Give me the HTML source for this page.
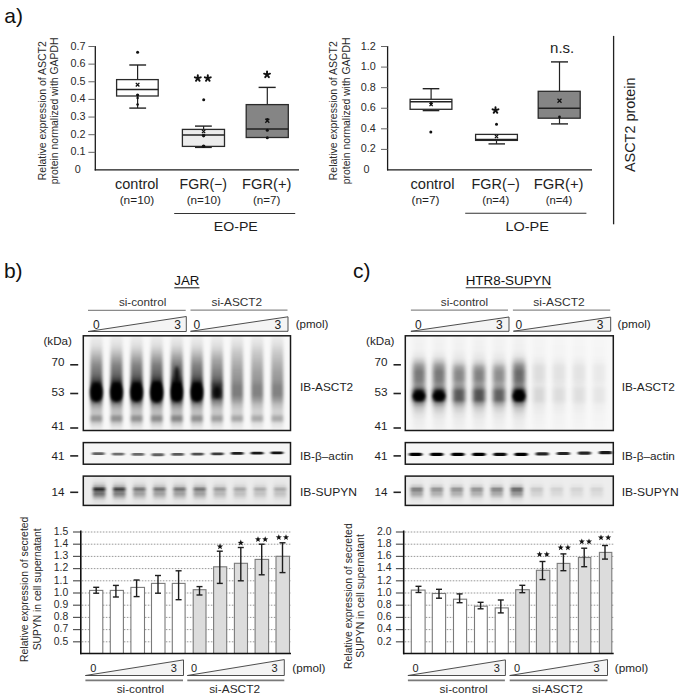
<!DOCTYPE html><html><head><meta charset="utf-8"><title>Figure</title><style>html,body{margin:0;padding:0;background:#fff;width:685px;height:697px;overflow:hidden}svg{display:block}text{font-family:"Liberation Sans",sans-serif}</style></head><body><svg width="685" height="697" viewBox="0 0 685 697"><defs><filter id="b1" x="-50%" y="-50%" width="200%" height="200%"><feGaussianBlur stdDeviation="1.5"/></filter><filter id="b2" x="-50%" y="-50%" width="200%" height="200%"><feGaussianBlur stdDeviation="2.2"/></filter><filter id="b3" x="-50%" y="-50%" width="200%" height="200%"><feGaussianBlur stdDeviation="0.9"/></filter><filter id="bl" x="-50%" y="-50%" width="200%" height="200%"><feGaussianBlur stdDeviation="1.7 1.0"/></filter><filter id="blc" x="-50%" y="-50%" width="200%" height="200%"><feGaussianBlur stdDeviation="2.3 1.3"/></filter><filter id="bs" x="-50%" y="-50%" width="200%" height="200%"><feGaussianBlur stdDeviation="1.2 0.8"/></filter><filter id="bsu" x="-50%" y="-50%" width="200%" height="200%"><feGaussianBlur stdDeviation="1.5 0.7"/></filter><filter id="bsb" x="-50%" y="-50%" width="200%" height="200%"><feGaussianBlur stdDeviation="1.8 0.5"/></filter><linearGradient id="g1" gradientUnits="userSpaceOnUse" x1="0" y1="334" x2="0" y2="432"><stop offset="0.0000" stop-color="#000" stop-opacity="0.019"/><stop offset="0.0408" stop-color="#000" stop-opacity="0.048"/><stop offset="0.1122" stop-color="#000" stop-opacity="0.095"/><stop offset="0.1633" stop-color="#000" stop-opacity="0.162"/><stop offset="0.2143" stop-color="#000" stop-opacity="0.257"/><stop offset="0.2653" stop-color="#000" stop-opacity="0.351"/><stop offset="0.3163" stop-color="#000" stop-opacity="0.446"/><stop offset="0.3673" stop-color="#000" stop-opacity="0.503"/><stop offset="0.4184" stop-color="#000" stop-opacity="0.570"/><stop offset="0.4694" stop-color="#000" stop-opacity="0.712"/><stop offset="0.5102" stop-color="#000" stop-opacity="0.902"/><stop offset="0.6531" stop-color="#000" stop-opacity="0.902"/><stop offset="0.6939" stop-color="#000" stop-opacity="0.570"/><stop offset="0.7347" stop-color="#000" stop-opacity="0.342"/><stop offset="0.7755" stop-color="#000" stop-opacity="0.228"/><stop offset="0.8163" stop-color="#000" stop-opacity="0.209"/><stop offset="0.8469" stop-color="#000" stop-opacity="0.399"/><stop offset="0.8776" stop-color="#000" stop-opacity="0.399"/><stop offset="0.9082" stop-color="#000" stop-opacity="0.171"/><stop offset="0.9592" stop-color="#000" stop-opacity="0.057"/><stop offset="1.0000" stop-color="#000" stop-opacity="0.028"/></linearGradient><linearGradient id="g2" gradientUnits="userSpaceOnUse" x1="0" y1="334" x2="0" y2="432"><stop offset="0.0000" stop-color="#000" stop-opacity="0.020"/><stop offset="0.0408" stop-color="#000" stop-opacity="0.050"/><stop offset="0.1122" stop-color="#000" stop-opacity="0.100"/><stop offset="0.1633" stop-color="#000" stop-opacity="0.170"/><stop offset="0.2143" stop-color="#000" stop-opacity="0.270"/><stop offset="0.2653" stop-color="#000" stop-opacity="0.370"/><stop offset="0.3163" stop-color="#000" stop-opacity="0.470"/><stop offset="0.3673" stop-color="#000" stop-opacity="0.530"/><stop offset="0.4184" stop-color="#000" stop-opacity="0.600"/><stop offset="0.4694" stop-color="#000" stop-opacity="0.750"/><stop offset="0.5102" stop-color="#000" stop-opacity="0.950"/><stop offset="0.6531" stop-color="#000" stop-opacity="0.950"/><stop offset="0.6939" stop-color="#000" stop-opacity="0.600"/><stop offset="0.7347" stop-color="#000" stop-opacity="0.360"/><stop offset="0.7755" stop-color="#000" stop-opacity="0.240"/><stop offset="0.8163" stop-color="#000" stop-opacity="0.220"/><stop offset="0.8469" stop-color="#000" stop-opacity="0.420"/><stop offset="0.8776" stop-color="#000" stop-opacity="0.420"/><stop offset="0.9082" stop-color="#000" stop-opacity="0.180"/><stop offset="0.9592" stop-color="#000" stop-opacity="0.060"/><stop offset="1.0000" stop-color="#000" stop-opacity="0.030"/></linearGradient><linearGradient id="g3" gradientUnits="userSpaceOnUse" x1="0" y1="334" x2="0" y2="432"><stop offset="0.0000" stop-color="#000" stop-opacity="0.020"/><stop offset="0.0408" stop-color="#000" stop-opacity="0.050"/><stop offset="0.1122" stop-color="#000" stop-opacity="0.100"/><stop offset="0.1633" stop-color="#000" stop-opacity="0.170"/><stop offset="0.2143" stop-color="#000" stop-opacity="0.270"/><stop offset="0.2653" stop-color="#000" stop-opacity="0.370"/><stop offset="0.3163" stop-color="#000" stop-opacity="0.470"/><stop offset="0.3673" stop-color="#000" stop-opacity="0.530"/><stop offset="0.4184" stop-color="#000" stop-opacity="0.600"/><stop offset="0.4694" stop-color="#000" stop-opacity="0.750"/><stop offset="0.5102" stop-color="#000" stop-opacity="0.950"/><stop offset="0.6531" stop-color="#000" stop-opacity="0.950"/><stop offset="0.6939" stop-color="#000" stop-opacity="0.600"/><stop offset="0.7347" stop-color="#000" stop-opacity="0.360"/><stop offset="0.7755" stop-color="#000" stop-opacity="0.240"/><stop offset="0.8163" stop-color="#000" stop-opacity="0.220"/><stop offset="0.8469" stop-color="#000" stop-opacity="0.420"/><stop offset="0.8776" stop-color="#000" stop-opacity="0.420"/><stop offset="0.9082" stop-color="#000" stop-opacity="0.180"/><stop offset="0.9592" stop-color="#000" stop-opacity="0.060"/><stop offset="1.0000" stop-color="#000" stop-opacity="0.030"/></linearGradient><linearGradient id="g4" gradientUnits="userSpaceOnUse" x1="0" y1="334" x2="0" y2="432"><stop offset="0.0000" stop-color="#000" stop-opacity="0.021"/><stop offset="0.0408" stop-color="#000" stop-opacity="0.053"/><stop offset="0.1122" stop-color="#000" stop-opacity="0.105"/><stop offset="0.1633" stop-color="#000" stop-opacity="0.179"/><stop offset="0.2143" stop-color="#000" stop-opacity="0.284"/><stop offset="0.2653" stop-color="#000" stop-opacity="0.389"/><stop offset="0.3163" stop-color="#000" stop-opacity="0.493"/><stop offset="0.3673" stop-color="#000" stop-opacity="0.557"/><stop offset="0.4184" stop-color="#000" stop-opacity="0.630"/><stop offset="0.4694" stop-color="#000" stop-opacity="0.788"/><stop offset="0.5102" stop-color="#000" stop-opacity="0.997"/><stop offset="0.6531" stop-color="#000" stop-opacity="0.997"/><stop offset="0.6939" stop-color="#000" stop-opacity="0.630"/><stop offset="0.7347" stop-color="#000" stop-opacity="0.378"/><stop offset="0.7755" stop-color="#000" stop-opacity="0.252"/><stop offset="0.8163" stop-color="#000" stop-opacity="0.231"/><stop offset="0.8469" stop-color="#000" stop-opacity="0.441"/><stop offset="0.8776" stop-color="#000" stop-opacity="0.441"/><stop offset="0.9082" stop-color="#000" stop-opacity="0.189"/><stop offset="0.9592" stop-color="#000" stop-opacity="0.063"/><stop offset="1.0000" stop-color="#000" stop-opacity="0.032"/></linearGradient><linearGradient id="g5" gradientUnits="userSpaceOnUse" x1="0" y1="334" x2="0" y2="432"><stop offset="0.0000" stop-color="#000" stop-opacity="0.022"/><stop offset="0.0408" stop-color="#000" stop-opacity="0.055"/><stop offset="0.1122" stop-color="#000" stop-opacity="0.110"/><stop offset="0.1633" stop-color="#000" stop-opacity="0.187"/><stop offset="0.2143" stop-color="#000" stop-opacity="0.297"/><stop offset="0.2653" stop-color="#000" stop-opacity="0.407"/><stop offset="0.3163" stop-color="#000" stop-opacity="0.517"/><stop offset="0.3673" stop-color="#000" stop-opacity="0.583"/><stop offset="0.4184" stop-color="#000" stop-opacity="0.660"/><stop offset="0.4694" stop-color="#000" stop-opacity="0.825"/><stop offset="0.5102" stop-color="#000" stop-opacity="1.000"/><stop offset="0.6531" stop-color="#000" stop-opacity="1.000"/><stop offset="0.6939" stop-color="#000" stop-opacity="0.660"/><stop offset="0.7347" stop-color="#000" stop-opacity="0.396"/><stop offset="0.7755" stop-color="#000" stop-opacity="0.264"/><stop offset="0.8163" stop-color="#000" stop-opacity="0.242"/><stop offset="0.8469" stop-color="#000" stop-opacity="0.462"/><stop offset="0.8776" stop-color="#000" stop-opacity="0.462"/><stop offset="0.9082" stop-color="#000" stop-opacity="0.198"/><stop offset="0.9592" stop-color="#000" stop-opacity="0.066"/><stop offset="1.0000" stop-color="#000" stop-opacity="0.033"/></linearGradient><linearGradient id="g6" gradientUnits="userSpaceOnUse" x1="0" y1="334" x2="0" y2="432"><stop offset="0.0000" stop-color="#000" stop-opacity="0.020"/><stop offset="0.0408" stop-color="#000" stop-opacity="0.050"/><stop offset="0.1122" stop-color="#000" stop-opacity="0.100"/><stop offset="0.1633" stop-color="#000" stop-opacity="0.170"/><stop offset="0.2143" stop-color="#000" stop-opacity="0.270"/><stop offset="0.2653" stop-color="#000" stop-opacity="0.370"/><stop offset="0.3163" stop-color="#000" stop-opacity="0.470"/><stop offset="0.3673" stop-color="#000" stop-opacity="0.530"/><stop offset="0.4184" stop-color="#000" stop-opacity="0.600"/><stop offset="0.4694" stop-color="#000" stop-opacity="0.750"/><stop offset="0.5102" stop-color="#000" stop-opacity="0.950"/><stop offset="0.6531" stop-color="#000" stop-opacity="0.950"/><stop offset="0.6939" stop-color="#000" stop-opacity="0.600"/><stop offset="0.7347" stop-color="#000" stop-opacity="0.360"/><stop offset="0.7755" stop-color="#000" stop-opacity="0.240"/><stop offset="0.8163" stop-color="#000" stop-opacity="0.220"/><stop offset="0.8469" stop-color="#000" stop-opacity="0.420"/><stop offset="0.8776" stop-color="#000" stop-opacity="0.420"/><stop offset="0.9082" stop-color="#000" stop-opacity="0.180"/><stop offset="0.9592" stop-color="#000" stop-opacity="0.060"/><stop offset="1.0000" stop-color="#000" stop-opacity="0.030"/></linearGradient><linearGradient id="g7" gradientUnits="userSpaceOnUse" x1="0" y1="334" x2="0" y2="432"><stop offset="0.0000" stop-color="#000" stop-opacity="0.020"/><stop offset="0.0408" stop-color="#000" stop-opacity="0.050"/><stop offset="0.1122" stop-color="#000" stop-opacity="0.100"/><stop offset="0.1633" stop-color="#000" stop-opacity="0.160"/><stop offset="0.2143" stop-color="#000" stop-opacity="0.250"/><stop offset="0.2653" stop-color="#000" stop-opacity="0.330"/><stop offset="0.3469" stop-color="#000" stop-opacity="0.430"/><stop offset="0.4184" stop-color="#000" stop-opacity="0.520"/><stop offset="0.4694" stop-color="#000" stop-opacity="0.620"/><stop offset="0.5204" stop-color="#000" stop-opacity="0.800"/><stop offset="0.6429" stop-color="#000" stop-opacity="0.800"/><stop offset="0.6837" stop-color="#000" stop-opacity="0.500"/><stop offset="0.7347" stop-color="#000" stop-opacity="0.300"/><stop offset="0.7755" stop-color="#000" stop-opacity="0.200"/><stop offset="0.8163" stop-color="#000" stop-opacity="0.200"/><stop offset="0.8469" stop-color="#000" stop-opacity="0.360"/><stop offset="0.8776" stop-color="#000" stop-opacity="0.360"/><stop offset="0.9082" stop-color="#000" stop-opacity="0.150"/><stop offset="0.9592" stop-color="#000" stop-opacity="0.050"/><stop offset="1.0000" stop-color="#000" stop-opacity="0.030"/></linearGradient><linearGradient id="g8" gradientUnits="userSpaceOnUse" x1="0" y1="334" x2="0" y2="432"><stop offset="0.0000" stop-color="#000" stop-opacity="0.022"/><stop offset="0.0408" stop-color="#000" stop-opacity="0.055"/><stop offset="0.1122" stop-color="#000" stop-opacity="0.110"/><stop offset="0.1837" stop-color="#000" stop-opacity="0.187"/><stop offset="0.2653" stop-color="#000" stop-opacity="0.264"/><stop offset="0.3673" stop-color="#000" stop-opacity="0.352"/><stop offset="0.4694" stop-color="#000" stop-opacity="0.418"/><stop offset="0.5408" stop-color="#000" stop-opacity="0.495"/><stop offset="0.6224" stop-color="#000" stop-opacity="0.495"/><stop offset="0.6735" stop-color="#000" stop-opacity="0.385"/><stop offset="0.7245" stop-color="#000" stop-opacity="0.242"/><stop offset="0.7755" stop-color="#000" stop-opacity="0.165"/><stop offset="0.8163" stop-color="#000" stop-opacity="0.165"/><stop offset="0.8469" stop-color="#000" stop-opacity="0.330"/><stop offset="0.8776" stop-color="#000" stop-opacity="0.330"/><stop offset="0.9082" stop-color="#000" stop-opacity="0.110"/><stop offset="0.9592" stop-color="#000" stop-opacity="0.044"/><stop offset="1.0000" stop-color="#000" stop-opacity="0.022"/></linearGradient><linearGradient id="g9" gradientUnits="userSpaceOnUse" x1="0" y1="334" x2="0" y2="432"><stop offset="0.0000" stop-color="#000" stop-opacity="0.021"/><stop offset="0.0408" stop-color="#000" stop-opacity="0.053"/><stop offset="0.1122" stop-color="#000" stop-opacity="0.105"/><stop offset="0.1837" stop-color="#000" stop-opacity="0.179"/><stop offset="0.2653" stop-color="#000" stop-opacity="0.252"/><stop offset="0.3673" stop-color="#000" stop-opacity="0.336"/><stop offset="0.4694" stop-color="#000" stop-opacity="0.399"/><stop offset="0.5408" stop-color="#000" stop-opacity="0.473"/><stop offset="0.6224" stop-color="#000" stop-opacity="0.473"/><stop offset="0.6735" stop-color="#000" stop-opacity="0.367"/><stop offset="0.7245" stop-color="#000" stop-opacity="0.231"/><stop offset="0.7755" stop-color="#000" stop-opacity="0.158"/><stop offset="0.8163" stop-color="#000" stop-opacity="0.158"/><stop offset="0.8469" stop-color="#000" stop-opacity="0.315"/><stop offset="0.8776" stop-color="#000" stop-opacity="0.315"/><stop offset="0.9082" stop-color="#000" stop-opacity="0.105"/><stop offset="0.9592" stop-color="#000" stop-opacity="0.042"/><stop offset="1.0000" stop-color="#000" stop-opacity="0.021"/></linearGradient><linearGradient id="g10" gradientUnits="userSpaceOnUse" x1="0" y1="334" x2="0" y2="432"><stop offset="0.0000" stop-color="#000" stop-opacity="0.021"/><stop offset="0.0408" stop-color="#000" stop-opacity="0.053"/><stop offset="0.1122" stop-color="#000" stop-opacity="0.105"/><stop offset="0.1837" stop-color="#000" stop-opacity="0.179"/><stop offset="0.2653" stop-color="#000" stop-opacity="0.252"/><stop offset="0.3673" stop-color="#000" stop-opacity="0.336"/><stop offset="0.4694" stop-color="#000" stop-opacity="0.399"/><stop offset="0.5408" stop-color="#000" stop-opacity="0.473"/><stop offset="0.6224" stop-color="#000" stop-opacity="0.473"/><stop offset="0.6735" stop-color="#000" stop-opacity="0.367"/><stop offset="0.7245" stop-color="#000" stop-opacity="0.231"/><stop offset="0.7755" stop-color="#000" stop-opacity="0.158"/><stop offset="0.8163" stop-color="#000" stop-opacity="0.158"/><stop offset="0.8469" stop-color="#000" stop-opacity="0.315"/><stop offset="0.8776" stop-color="#000" stop-opacity="0.315"/><stop offset="0.9082" stop-color="#000" stop-opacity="0.105"/><stop offset="0.9592" stop-color="#000" stop-opacity="0.042"/><stop offset="1.0000" stop-color="#000" stop-opacity="0.021"/></linearGradient><linearGradient id="g11" gradientUnits="userSpaceOnUse" x1="0" y1="476" x2="0" y2="505.4"><stop offset="0.0000" stop-color="#000" stop-opacity="0.000"/><stop offset="0.1701" stop-color="#000" stop-opacity="0.034"/><stop offset="0.2721" stop-color="#000" stop-opacity="0.119"/><stop offset="0.3571" stop-color="#000" stop-opacity="0.297"/><stop offset="0.4082" stop-color="#000" stop-opacity="0.680"/><stop offset="0.4592" stop-color="#000" stop-opacity="0.807"/><stop offset="0.5102" stop-color="#000" stop-opacity="0.612"/><stop offset="0.5544" stop-color="#000" stop-opacity="0.510"/><stop offset="0.6122" stop-color="#000" stop-opacity="0.527"/><stop offset="0.6803" stop-color="#000" stop-opacity="0.383"/><stop offset="0.7483" stop-color="#000" stop-opacity="0.212"/><stop offset="0.8333" stop-color="#000" stop-opacity="0.068"/><stop offset="0.9864" stop-color="#000" stop-opacity="0.000"/></linearGradient><linearGradient id="g12" gradientUnits="userSpaceOnUse" x1="0" y1="476" x2="0" y2="505.4"><stop offset="0.0000" stop-color="#000" stop-opacity="0.000"/><stop offset="0.1701" stop-color="#000" stop-opacity="0.030"/><stop offset="0.2721" stop-color="#000" stop-opacity="0.105"/><stop offset="0.3571" stop-color="#000" stop-opacity="0.262"/><stop offset="0.4082" stop-color="#000" stop-opacity="0.600"/><stop offset="0.4592" stop-color="#000" stop-opacity="0.712"/><stop offset="0.5102" stop-color="#000" stop-opacity="0.540"/><stop offset="0.5544" stop-color="#000" stop-opacity="0.450"/><stop offset="0.6122" stop-color="#000" stop-opacity="0.465"/><stop offset="0.6803" stop-color="#000" stop-opacity="0.338"/><stop offset="0.7483" stop-color="#000" stop-opacity="0.188"/><stop offset="0.8333" stop-color="#000" stop-opacity="0.060"/><stop offset="0.9864" stop-color="#000" stop-opacity="0.000"/></linearGradient><linearGradient id="g13" gradientUnits="userSpaceOnUse" x1="0" y1="476" x2="0" y2="505.4"><stop offset="0.0000" stop-color="#000" stop-opacity="0.000"/><stop offset="0.1701" stop-color="#000" stop-opacity="0.021"/><stop offset="0.2721" stop-color="#000" stop-opacity="0.073"/><stop offset="0.3571" stop-color="#000" stop-opacity="0.182"/><stop offset="0.4082" stop-color="#000" stop-opacity="0.416"/><stop offset="0.4592" stop-color="#000" stop-opacity="0.494"/><stop offset="0.5102" stop-color="#000" stop-opacity="0.374"/><stop offset="0.5544" stop-color="#000" stop-opacity="0.312"/><stop offset="0.6122" stop-color="#000" stop-opacity="0.322"/><stop offset="0.6803" stop-color="#000" stop-opacity="0.234"/><stop offset="0.7483" stop-color="#000" stop-opacity="0.130"/><stop offset="0.8333" stop-color="#000" stop-opacity="0.042"/><stop offset="0.9864" stop-color="#000" stop-opacity="0.000"/></linearGradient><linearGradient id="g14" gradientUnits="userSpaceOnUse" x1="0" y1="476" x2="0" y2="505.4"><stop offset="0.0000" stop-color="#000" stop-opacity="0.000"/><stop offset="0.1701" stop-color="#000" stop-opacity="0.021"/><stop offset="0.2721" stop-color="#000" stop-opacity="0.073"/><stop offset="0.3571" stop-color="#000" stop-opacity="0.182"/><stop offset="0.4082" stop-color="#000" stop-opacity="0.416"/><stop offset="0.4592" stop-color="#000" stop-opacity="0.494"/><stop offset="0.5102" stop-color="#000" stop-opacity="0.374"/><stop offset="0.5544" stop-color="#000" stop-opacity="0.312"/><stop offset="0.6122" stop-color="#000" stop-opacity="0.322"/><stop offset="0.6803" stop-color="#000" stop-opacity="0.234"/><stop offset="0.7483" stop-color="#000" stop-opacity="0.130"/><stop offset="0.8333" stop-color="#000" stop-opacity="0.042"/><stop offset="0.9864" stop-color="#000" stop-opacity="0.000"/></linearGradient><linearGradient id="g15" gradientUnits="userSpaceOnUse" x1="0" y1="476" x2="0" y2="505.4"><stop offset="0.0000" stop-color="#000" stop-opacity="0.000"/><stop offset="0.1701" stop-color="#000" stop-opacity="0.021"/><stop offset="0.2721" stop-color="#000" stop-opacity="0.073"/><stop offset="0.3571" stop-color="#000" stop-opacity="0.182"/><stop offset="0.4082" stop-color="#000" stop-opacity="0.416"/><stop offset="0.4592" stop-color="#000" stop-opacity="0.494"/><stop offset="0.5102" stop-color="#000" stop-opacity="0.374"/><stop offset="0.5544" stop-color="#000" stop-opacity="0.312"/><stop offset="0.6122" stop-color="#000" stop-opacity="0.322"/><stop offset="0.6803" stop-color="#000" stop-opacity="0.234"/><stop offset="0.7483" stop-color="#000" stop-opacity="0.130"/><stop offset="0.8333" stop-color="#000" stop-opacity="0.042"/><stop offset="0.9864" stop-color="#000" stop-opacity="0.000"/></linearGradient><linearGradient id="g16" gradientUnits="userSpaceOnUse" x1="0" y1="476" x2="0" y2="505.4"><stop offset="0.0000" stop-color="#000" stop-opacity="0.000"/><stop offset="0.1701" stop-color="#000" stop-opacity="0.021"/><stop offset="0.2721" stop-color="#000" stop-opacity="0.073"/><stop offset="0.3571" stop-color="#000" stop-opacity="0.182"/><stop offset="0.4082" stop-color="#000" stop-opacity="0.416"/><stop offset="0.4592" stop-color="#000" stop-opacity="0.494"/><stop offset="0.5102" stop-color="#000" stop-opacity="0.374"/><stop offset="0.5544" stop-color="#000" stop-opacity="0.312"/><stop offset="0.6122" stop-color="#000" stop-opacity="0.322"/><stop offset="0.6803" stop-color="#000" stop-opacity="0.234"/><stop offset="0.7483" stop-color="#000" stop-opacity="0.130"/><stop offset="0.8333" stop-color="#000" stop-opacity="0.042"/><stop offset="0.9864" stop-color="#000" stop-opacity="0.000"/></linearGradient><linearGradient id="g17" gradientUnits="userSpaceOnUse" x1="0" y1="476" x2="0" y2="505.4"><stop offset="0.0000" stop-color="#000" stop-opacity="0.000"/><stop offset="0.1701" stop-color="#000" stop-opacity="0.014"/><stop offset="0.2721" stop-color="#000" stop-opacity="0.050"/><stop offset="0.3571" stop-color="#000" stop-opacity="0.126"/><stop offset="0.4082" stop-color="#000" stop-opacity="0.288"/><stop offset="0.4592" stop-color="#000" stop-opacity="0.342"/><stop offset="0.5102" stop-color="#000" stop-opacity="0.259"/><stop offset="0.5544" stop-color="#000" stop-opacity="0.216"/><stop offset="0.6122" stop-color="#000" stop-opacity="0.223"/><stop offset="0.6803" stop-color="#000" stop-opacity="0.162"/><stop offset="0.7483" stop-color="#000" stop-opacity="0.090"/><stop offset="0.8333" stop-color="#000" stop-opacity="0.029"/><stop offset="0.9864" stop-color="#000" stop-opacity="0.000"/></linearGradient><linearGradient id="g18" gradientUnits="userSpaceOnUse" x1="0" y1="476" x2="0" y2="505.4"><stop offset="0.0000" stop-color="#000" stop-opacity="0.000"/><stop offset="0.1701" stop-color="#000" stop-opacity="0.012"/><stop offset="0.2721" stop-color="#000" stop-opacity="0.042"/><stop offset="0.3571" stop-color="#000" stop-opacity="0.105"/><stop offset="0.4082" stop-color="#000" stop-opacity="0.240"/><stop offset="0.4592" stop-color="#000" stop-opacity="0.285"/><stop offset="0.5102" stop-color="#000" stop-opacity="0.216"/><stop offset="0.5544" stop-color="#000" stop-opacity="0.180"/><stop offset="0.6122" stop-color="#000" stop-opacity="0.186"/><stop offset="0.6803" stop-color="#000" stop-opacity="0.135"/><stop offset="0.7483" stop-color="#000" stop-opacity="0.075"/><stop offset="0.8333" stop-color="#000" stop-opacity="0.024"/><stop offset="0.9864" stop-color="#000" stop-opacity="0.000"/></linearGradient><linearGradient id="g19" gradientUnits="userSpaceOnUse" x1="0" y1="476" x2="0" y2="505.4"><stop offset="0.0000" stop-color="#000" stop-opacity="0.000"/><stop offset="0.1701" stop-color="#000" stop-opacity="0.011"/><stop offset="0.2721" stop-color="#000" stop-opacity="0.039"/><stop offset="0.3571" stop-color="#000" stop-opacity="0.098"/><stop offset="0.4082" stop-color="#000" stop-opacity="0.224"/><stop offset="0.4592" stop-color="#000" stop-opacity="0.266"/><stop offset="0.5102" stop-color="#000" stop-opacity="0.202"/><stop offset="0.5544" stop-color="#000" stop-opacity="0.168"/><stop offset="0.6122" stop-color="#000" stop-opacity="0.174"/><stop offset="0.6803" stop-color="#000" stop-opacity="0.126"/><stop offset="0.7483" stop-color="#000" stop-opacity="0.070"/><stop offset="0.8333" stop-color="#000" stop-opacity="0.022"/><stop offset="0.9864" stop-color="#000" stop-opacity="0.000"/></linearGradient><linearGradient id="g20" gradientUnits="userSpaceOnUse" x1="0" y1="476" x2="0" y2="505.4"><stop offset="0.0000" stop-color="#000" stop-opacity="0.000"/><stop offset="0.1701" stop-color="#000" stop-opacity="0.011"/><stop offset="0.2721" stop-color="#000" stop-opacity="0.039"/><stop offset="0.3571" stop-color="#000" stop-opacity="0.098"/><stop offset="0.4082" stop-color="#000" stop-opacity="0.224"/><stop offset="0.4592" stop-color="#000" stop-opacity="0.266"/><stop offset="0.5102" stop-color="#000" stop-opacity="0.202"/><stop offset="0.5544" stop-color="#000" stop-opacity="0.168"/><stop offset="0.6122" stop-color="#000" stop-opacity="0.174"/><stop offset="0.6803" stop-color="#000" stop-opacity="0.126"/><stop offset="0.7483" stop-color="#000" stop-opacity="0.070"/><stop offset="0.8333" stop-color="#000" stop-opacity="0.022"/><stop offset="0.9864" stop-color="#000" stop-opacity="0.000"/></linearGradient><linearGradient id="g21" gradientUnits="userSpaceOnUse" x1="0" y1="334" x2="0" y2="432"><stop offset="0.0000" stop-color="#000" stop-opacity="0.020"/><stop offset="0.1633" stop-color="#000" stop-opacity="0.030"/><stop offset="0.2245" stop-color="#000" stop-opacity="0.070"/><stop offset="0.2755" stop-color="#000" stop-opacity="0.200"/><stop offset="0.3265" stop-color="#000" stop-opacity="0.400"/><stop offset="0.3878" stop-color="#000" stop-opacity="0.520"/><stop offset="0.4694" stop-color="#000" stop-opacity="0.500"/><stop offset="0.5204" stop-color="#000" stop-opacity="0.420"/><stop offset="0.5510" stop-color="#000" stop-opacity="0.550"/><stop offset="0.5816" stop-color="#000" stop-opacity="0.900"/><stop offset="0.6735" stop-color="#000" stop-opacity="0.900"/><stop offset="0.7041" stop-color="#000" stop-opacity="0.450"/><stop offset="0.7551" stop-color="#000" stop-opacity="0.200"/><stop offset="0.8163" stop-color="#000" stop-opacity="0.100"/><stop offset="0.8776" stop-color="#000" stop-opacity="0.050"/><stop offset="1.0000" stop-color="#000" stop-opacity="0.020"/></linearGradient><linearGradient id="g22" gradientUnits="userSpaceOnUse" x1="0" y1="334" x2="0" y2="432"><stop offset="0.0000" stop-color="#000" stop-opacity="0.020"/><stop offset="0.1633" stop-color="#000" stop-opacity="0.030"/><stop offset="0.2245" stop-color="#000" stop-opacity="0.070"/><stop offset="0.2755" stop-color="#000" stop-opacity="0.200"/><stop offset="0.3265" stop-color="#000" stop-opacity="0.400"/><stop offset="0.3878" stop-color="#000" stop-opacity="0.520"/><stop offset="0.4694" stop-color="#000" stop-opacity="0.500"/><stop offset="0.5204" stop-color="#000" stop-opacity="0.420"/><stop offset="0.5510" stop-color="#000" stop-opacity="0.550"/><stop offset="0.5816" stop-color="#000" stop-opacity="0.900"/><stop offset="0.6735" stop-color="#000" stop-opacity="0.900"/><stop offset="0.7041" stop-color="#000" stop-opacity="0.450"/><stop offset="0.7551" stop-color="#000" stop-opacity="0.200"/><stop offset="0.8163" stop-color="#000" stop-opacity="0.100"/><stop offset="0.8776" stop-color="#000" stop-opacity="0.050"/><stop offset="1.0000" stop-color="#000" stop-opacity="0.020"/></linearGradient><linearGradient id="g23" gradientUnits="userSpaceOnUse" x1="0" y1="334" x2="0" y2="432"><stop offset="0.0000" stop-color="#000" stop-opacity="0.020"/><stop offset="0.1633" stop-color="#000" stop-opacity="0.030"/><stop offset="0.2449" stop-color="#000" stop-opacity="0.070"/><stop offset="0.2959" stop-color="#000" stop-opacity="0.160"/><stop offset="0.3367" stop-color="#000" stop-opacity="0.340"/><stop offset="0.3878" stop-color="#000" stop-opacity="0.450"/><stop offset="0.4592" stop-color="#000" stop-opacity="0.450"/><stop offset="0.5102" stop-color="#000" stop-opacity="0.360"/><stop offset="0.5510" stop-color="#000" stop-opacity="0.450"/><stop offset="0.5816" stop-color="#000" stop-opacity="0.640"/><stop offset="0.6735" stop-color="#000" stop-opacity="0.640"/><stop offset="0.7041" stop-color="#000" stop-opacity="0.380"/><stop offset="0.7551" stop-color="#000" stop-opacity="0.180"/><stop offset="0.8163" stop-color="#000" stop-opacity="0.090"/><stop offset="0.8776" stop-color="#000" stop-opacity="0.050"/><stop offset="1.0000" stop-color="#000" stop-opacity="0.020"/></linearGradient><linearGradient id="g24" gradientUnits="userSpaceOnUse" x1="0" y1="334" x2="0" y2="432"><stop offset="0.0000" stop-color="#000" stop-opacity="0.021"/><stop offset="0.1633" stop-color="#000" stop-opacity="0.032"/><stop offset="0.2449" stop-color="#000" stop-opacity="0.074"/><stop offset="0.2959" stop-color="#000" stop-opacity="0.168"/><stop offset="0.3367" stop-color="#000" stop-opacity="0.357"/><stop offset="0.3878" stop-color="#000" stop-opacity="0.473"/><stop offset="0.4592" stop-color="#000" stop-opacity="0.473"/><stop offset="0.5102" stop-color="#000" stop-opacity="0.378"/><stop offset="0.5510" stop-color="#000" stop-opacity="0.473"/><stop offset="0.5816" stop-color="#000" stop-opacity="0.672"/><stop offset="0.6735" stop-color="#000" stop-opacity="0.672"/><stop offset="0.7041" stop-color="#000" stop-opacity="0.399"/><stop offset="0.7551" stop-color="#000" stop-opacity="0.189"/><stop offset="0.8163" stop-color="#000" stop-opacity="0.095"/><stop offset="0.8776" stop-color="#000" stop-opacity="0.053"/><stop offset="1.0000" stop-color="#000" stop-opacity="0.021"/></linearGradient><linearGradient id="g25" gradientUnits="userSpaceOnUse" x1="0" y1="334" x2="0" y2="432"><stop offset="0.0000" stop-color="#000" stop-opacity="0.019"/><stop offset="0.1633" stop-color="#000" stop-opacity="0.028"/><stop offset="0.2449" stop-color="#000" stop-opacity="0.067"/><stop offset="0.2959" stop-color="#000" stop-opacity="0.152"/><stop offset="0.3367" stop-color="#000" stop-opacity="0.323"/><stop offset="0.3878" stop-color="#000" stop-opacity="0.427"/><stop offset="0.4592" stop-color="#000" stop-opacity="0.427"/><stop offset="0.5102" stop-color="#000" stop-opacity="0.342"/><stop offset="0.5510" stop-color="#000" stop-opacity="0.427"/><stop offset="0.5816" stop-color="#000" stop-opacity="0.608"/><stop offset="0.6735" stop-color="#000" stop-opacity="0.608"/><stop offset="0.7041" stop-color="#000" stop-opacity="0.361"/><stop offset="0.7551" stop-color="#000" stop-opacity="0.171"/><stop offset="0.8163" stop-color="#000" stop-opacity="0.085"/><stop offset="0.8776" stop-color="#000" stop-opacity="0.048"/><stop offset="1.0000" stop-color="#000" stop-opacity="0.019"/></linearGradient><linearGradient id="g26" gradientUnits="userSpaceOnUse" x1="0" y1="334" x2="0" y2="432"><stop offset="0.0000" stop-color="#000" stop-opacity="0.022"/><stop offset="0.1633" stop-color="#000" stop-opacity="0.034"/><stop offset="0.2245" stop-color="#000" stop-opacity="0.078"/><stop offset="0.2755" stop-color="#000" stop-opacity="0.224"/><stop offset="0.3265" stop-color="#000" stop-opacity="0.448"/><stop offset="0.3878" stop-color="#000" stop-opacity="0.582"/><stop offset="0.4694" stop-color="#000" stop-opacity="0.560"/><stop offset="0.5204" stop-color="#000" stop-opacity="0.470"/><stop offset="0.5510" stop-color="#000" stop-opacity="0.616"/><stop offset="0.5816" stop-color="#000" stop-opacity="1.000"/><stop offset="0.6735" stop-color="#000" stop-opacity="1.000"/><stop offset="0.7041" stop-color="#000" stop-opacity="0.504"/><stop offset="0.7551" stop-color="#000" stop-opacity="0.224"/><stop offset="0.8163" stop-color="#000" stop-opacity="0.112"/><stop offset="0.8776" stop-color="#000" stop-opacity="0.056"/><stop offset="1.0000" stop-color="#000" stop-opacity="0.022"/></linearGradient><linearGradient id="g27" gradientUnits="userSpaceOnUse" x1="0" y1="334" x2="0" y2="432"><stop offset="0.0000" stop-color="#000" stop-opacity="0.011"/><stop offset="0.2143" stop-color="#000" stop-opacity="0.022"/><stop offset="0.2857" stop-color="#000" stop-opacity="0.055"/><stop offset="0.3367" stop-color="#000" stop-opacity="0.110"/><stop offset="0.4490" stop-color="#000" stop-opacity="0.110"/><stop offset="0.5204" stop-color="#000" stop-opacity="0.077"/><stop offset="0.5714" stop-color="#000" stop-opacity="0.132"/><stop offset="0.6735" stop-color="#000" stop-opacity="0.132"/><stop offset="0.7245" stop-color="#000" stop-opacity="0.066"/><stop offset="0.8265" stop-color="#000" stop-opacity="0.033"/><stop offset="1.0000" stop-color="#000" stop-opacity="0.011"/></linearGradient><linearGradient id="g28" gradientUnits="userSpaceOnUse" x1="0" y1="334" x2="0" y2="432"><stop offset="0.0000" stop-color="#000" stop-opacity="0.009"/><stop offset="0.2143" stop-color="#000" stop-opacity="0.018"/><stop offset="0.2857" stop-color="#000" stop-opacity="0.045"/><stop offset="0.3367" stop-color="#000" stop-opacity="0.090"/><stop offset="0.4490" stop-color="#000" stop-opacity="0.090"/><stop offset="0.5204" stop-color="#000" stop-opacity="0.063"/><stop offset="0.5714" stop-color="#000" stop-opacity="0.108"/><stop offset="0.6735" stop-color="#000" stop-opacity="0.108"/><stop offset="0.7245" stop-color="#000" stop-opacity="0.054"/><stop offset="0.8265" stop-color="#000" stop-opacity="0.027"/><stop offset="1.0000" stop-color="#000" stop-opacity="0.009"/></linearGradient><linearGradient id="g29" gradientUnits="userSpaceOnUse" x1="0" y1="334" x2="0" y2="432"><stop offset="0.0000" stop-color="#000" stop-opacity="0.009"/><stop offset="0.2143" stop-color="#000" stop-opacity="0.017"/><stop offset="0.2857" stop-color="#000" stop-opacity="0.043"/><stop offset="0.3367" stop-color="#000" stop-opacity="0.085"/><stop offset="0.4490" stop-color="#000" stop-opacity="0.085"/><stop offset="0.5204" stop-color="#000" stop-opacity="0.060"/><stop offset="0.5714" stop-color="#000" stop-opacity="0.102"/><stop offset="0.6735" stop-color="#000" stop-opacity="0.102"/><stop offset="0.7245" stop-color="#000" stop-opacity="0.051"/><stop offset="0.8265" stop-color="#000" stop-opacity="0.025"/><stop offset="1.0000" stop-color="#000" stop-opacity="0.009"/></linearGradient><linearGradient id="g30" gradientUnits="userSpaceOnUse" x1="0" y1="334" x2="0" y2="432"><stop offset="0.0000" stop-color="#000" stop-opacity="0.006"/><stop offset="0.2143" stop-color="#000" stop-opacity="0.012"/><stop offset="0.2857" stop-color="#000" stop-opacity="0.030"/><stop offset="0.3367" stop-color="#000" stop-opacity="0.060"/><stop offset="0.4490" stop-color="#000" stop-opacity="0.060"/><stop offset="0.5204" stop-color="#000" stop-opacity="0.042"/><stop offset="0.5714" stop-color="#000" stop-opacity="0.072"/><stop offset="0.6735" stop-color="#000" stop-opacity="0.072"/><stop offset="0.7245" stop-color="#000" stop-opacity="0.036"/><stop offset="0.8265" stop-color="#000" stop-opacity="0.018"/><stop offset="1.0000" stop-color="#000" stop-opacity="0.006"/></linearGradient><linearGradient id="g31" gradientUnits="userSpaceOnUse" x1="0" y1="476" x2="0" y2="505.4"><stop offset="0.0000" stop-color="#000" stop-opacity="0.000"/><stop offset="0.2381" stop-color="#000" stop-opacity="0.026"/><stop offset="0.3571" stop-color="#000" stop-opacity="0.156"/><stop offset="0.4252" stop-color="#000" stop-opacity="0.442"/><stop offset="0.4932" stop-color="#000" stop-opacity="0.442"/><stop offset="0.5612" stop-color="#000" stop-opacity="0.322"/><stop offset="0.6293" stop-color="#000" stop-opacity="0.286"/><stop offset="0.6973" stop-color="#000" stop-opacity="0.182"/><stop offset="0.7653" stop-color="#000" stop-opacity="0.078"/><stop offset="0.8503" stop-color="#000" stop-opacity="0.026"/><stop offset="0.9864" stop-color="#000" stop-opacity="0.000"/></linearGradient><linearGradient id="g32" gradientUnits="userSpaceOnUse" x1="0" y1="476" x2="0" y2="505.4"><stop offset="0.0000" stop-color="#000" stop-opacity="0.000"/><stop offset="0.2381" stop-color="#000" stop-opacity="0.021"/><stop offset="0.3571" stop-color="#000" stop-opacity="0.126"/><stop offset="0.4252" stop-color="#000" stop-opacity="0.357"/><stop offset="0.4932" stop-color="#000" stop-opacity="0.357"/><stop offset="0.5612" stop-color="#000" stop-opacity="0.260"/><stop offset="0.6293" stop-color="#000" stop-opacity="0.231"/><stop offset="0.6973" stop-color="#000" stop-opacity="0.147"/><stop offset="0.7653" stop-color="#000" stop-opacity="0.063"/><stop offset="0.8503" stop-color="#000" stop-opacity="0.021"/><stop offset="0.9864" stop-color="#000" stop-opacity="0.000"/></linearGradient><linearGradient id="g33" gradientUnits="userSpaceOnUse" x1="0" y1="476" x2="0" y2="505.4"><stop offset="0.0000" stop-color="#000" stop-opacity="0.000"/><stop offset="0.2381" stop-color="#000" stop-opacity="0.021"/><stop offset="0.3571" stop-color="#000" stop-opacity="0.126"/><stop offset="0.4252" stop-color="#000" stop-opacity="0.357"/><stop offset="0.4932" stop-color="#000" stop-opacity="0.357"/><stop offset="0.5612" stop-color="#000" stop-opacity="0.260"/><stop offset="0.6293" stop-color="#000" stop-opacity="0.231"/><stop offset="0.6973" stop-color="#000" stop-opacity="0.147"/><stop offset="0.7653" stop-color="#000" stop-opacity="0.063"/><stop offset="0.8503" stop-color="#000" stop-opacity="0.021"/><stop offset="0.9864" stop-color="#000" stop-opacity="0.000"/></linearGradient><linearGradient id="g34" gradientUnits="userSpaceOnUse" x1="0" y1="476" x2="0" y2="505.4"><stop offset="0.0000" stop-color="#000" stop-opacity="0.000"/><stop offset="0.2381" stop-color="#000" stop-opacity="0.021"/><stop offset="0.3571" stop-color="#000" stop-opacity="0.126"/><stop offset="0.4252" stop-color="#000" stop-opacity="0.357"/><stop offset="0.4932" stop-color="#000" stop-opacity="0.357"/><stop offset="0.5612" stop-color="#000" stop-opacity="0.260"/><stop offset="0.6293" stop-color="#000" stop-opacity="0.231"/><stop offset="0.6973" stop-color="#000" stop-opacity="0.147"/><stop offset="0.7653" stop-color="#000" stop-opacity="0.063"/><stop offset="0.8503" stop-color="#000" stop-opacity="0.021"/><stop offset="0.9864" stop-color="#000" stop-opacity="0.000"/></linearGradient><linearGradient id="g35" gradientUnits="userSpaceOnUse" x1="0" y1="476" x2="0" y2="505.4"><stop offset="0.0000" stop-color="#000" stop-opacity="0.000"/><stop offset="0.2381" stop-color="#000" stop-opacity="0.024"/><stop offset="0.3571" stop-color="#000" stop-opacity="0.144"/><stop offset="0.4252" stop-color="#000" stop-opacity="0.408"/><stop offset="0.4932" stop-color="#000" stop-opacity="0.408"/><stop offset="0.5612" stop-color="#000" stop-opacity="0.298"/><stop offset="0.6293" stop-color="#000" stop-opacity="0.264"/><stop offset="0.6973" stop-color="#000" stop-opacity="0.168"/><stop offset="0.7653" stop-color="#000" stop-opacity="0.072"/><stop offset="0.8503" stop-color="#000" stop-opacity="0.024"/><stop offset="0.9864" stop-color="#000" stop-opacity="0.000"/></linearGradient><linearGradient id="g36" gradientUnits="userSpaceOnUse" x1="0" y1="476" x2="0" y2="505.4"><stop offset="0.0000" stop-color="#000" stop-opacity="0.000"/><stop offset="0.2381" stop-color="#000" stop-opacity="0.031"/><stop offset="0.3571" stop-color="#000" stop-opacity="0.186"/><stop offset="0.4252" stop-color="#000" stop-opacity="0.527"/><stop offset="0.4932" stop-color="#000" stop-opacity="0.527"/><stop offset="0.5612" stop-color="#000" stop-opacity="0.384"/><stop offset="0.6293" stop-color="#000" stop-opacity="0.341"/><stop offset="0.6973" stop-color="#000" stop-opacity="0.217"/><stop offset="0.7653" stop-color="#000" stop-opacity="0.093"/><stop offset="0.8503" stop-color="#000" stop-opacity="0.031"/><stop offset="0.9864" stop-color="#000" stop-opacity="0.000"/></linearGradient><linearGradient id="g37" gradientUnits="userSpaceOnUse" x1="0" y1="476" x2="0" y2="505.4"><stop offset="0.0000" stop-color="#000" stop-opacity="0.000"/><stop offset="0.2381" stop-color="#000" stop-opacity="0.009"/><stop offset="0.3571" stop-color="#000" stop-opacity="0.054"/><stop offset="0.4252" stop-color="#000" stop-opacity="0.153"/><stop offset="0.4932" stop-color="#000" stop-opacity="0.153"/><stop offset="0.5612" stop-color="#000" stop-opacity="0.112"/><stop offset="0.6293" stop-color="#000" stop-opacity="0.099"/><stop offset="0.6973" stop-color="#000" stop-opacity="0.063"/><stop offset="0.7653" stop-color="#000" stop-opacity="0.027"/><stop offset="0.8503" stop-color="#000" stop-opacity="0.009"/><stop offset="0.9864" stop-color="#000" stop-opacity="0.000"/></linearGradient><linearGradient id="g38" gradientUnits="userSpaceOnUse" x1="0" y1="476" x2="0" y2="505.4"><stop offset="0.0000" stop-color="#000" stop-opacity="0.000"/><stop offset="0.2381" stop-color="#000" stop-opacity="0.007"/><stop offset="0.3571" stop-color="#000" stop-opacity="0.039"/><stop offset="0.4252" stop-color="#000" stop-opacity="0.111"/><stop offset="0.4932" stop-color="#000" stop-opacity="0.111"/><stop offset="0.5612" stop-color="#000" stop-opacity="0.081"/><stop offset="0.6293" stop-color="#000" stop-opacity="0.072"/><stop offset="0.6973" stop-color="#000" stop-opacity="0.045"/><stop offset="0.7653" stop-color="#000" stop-opacity="0.019"/><stop offset="0.8503" stop-color="#000" stop-opacity="0.007"/><stop offset="0.9864" stop-color="#000" stop-opacity="0.000"/></linearGradient><linearGradient id="g39" gradientUnits="userSpaceOnUse" x1="0" y1="476" x2="0" y2="505.4"><stop offset="0.0000" stop-color="#000" stop-opacity="0.000"/><stop offset="0.2381" stop-color="#000" stop-opacity="0.006"/><stop offset="0.3571" stop-color="#000" stop-opacity="0.036"/><stop offset="0.4252" stop-color="#000" stop-opacity="0.102"/><stop offset="0.4932" stop-color="#000" stop-opacity="0.102"/><stop offset="0.5612" stop-color="#000" stop-opacity="0.074"/><stop offset="0.6293" stop-color="#000" stop-opacity="0.066"/><stop offset="0.6973" stop-color="#000" stop-opacity="0.042"/><stop offset="0.7653" stop-color="#000" stop-opacity="0.018"/><stop offset="0.8503" stop-color="#000" stop-opacity="0.006"/><stop offset="0.9864" stop-color="#000" stop-opacity="0.000"/></linearGradient><linearGradient id="g40" gradientUnits="userSpaceOnUse" x1="0" y1="476" x2="0" y2="505.4"><stop offset="0.0000" stop-color="#000" stop-opacity="0.000"/><stop offset="0.2381" stop-color="#000" stop-opacity="0.006"/><stop offset="0.3571" stop-color="#000" stop-opacity="0.036"/><stop offset="0.4252" stop-color="#000" stop-opacity="0.102"/><stop offset="0.4932" stop-color="#000" stop-opacity="0.102"/><stop offset="0.5612" stop-color="#000" stop-opacity="0.074"/><stop offset="0.6293" stop-color="#000" stop-opacity="0.066"/><stop offset="0.6973" stop-color="#000" stop-opacity="0.042"/><stop offset="0.7653" stop-color="#000" stop-opacity="0.018"/><stop offset="0.8503" stop-color="#000" stop-opacity="0.006"/><stop offset="0.9864" stop-color="#000" stop-opacity="0.000"/></linearGradient></defs><rect width="685" height="697" fill="#ffffff"/><text x="4.30" y="22.50" font-size="21" fill="#111">a)</text>
<line x1="95.30" y1="46.00" x2="95.30" y2="170.40" stroke="#1a1a1a" stroke-width="1.3"/>
<line x1="94.70" y1="169.80" x2="299.00" y2="169.80" stroke="#1a1a1a" stroke-width="1.3"/>
<line x1="88.40" y1="46.50" x2="95.30" y2="46.50" stroke="#666" stroke-width="1.0"/>
<text x="78.00" y="49.50" font-size="10.8" text-anchor="middle" fill="#2a2a2a">0.7</text>
<line x1="88.40" y1="64.14" x2="95.30" y2="64.14" stroke="#666" stroke-width="1.0"/>
<text x="78.00" y="67.14" font-size="10.8" text-anchor="middle" fill="#2a2a2a">0.6</text>
<line x1="88.40" y1="81.78" x2="95.30" y2="81.78" stroke="#666" stroke-width="1.0"/>
<text x="78.00" y="84.78" font-size="10.8" text-anchor="middle" fill="#2a2a2a">0.5</text>
<line x1="88.40" y1="99.42" x2="95.30" y2="99.42" stroke="#666" stroke-width="1.0"/>
<text x="78.00" y="102.42" font-size="10.8" text-anchor="middle" fill="#2a2a2a">0.4</text>
<line x1="88.40" y1="117.06" x2="95.30" y2="117.06" stroke="#666" stroke-width="1.0"/>
<text x="78.00" y="120.06" font-size="10.8" text-anchor="middle" fill="#2a2a2a">0.3</text>
<line x1="88.40" y1="134.70" x2="95.30" y2="134.70" stroke="#666" stroke-width="1.0"/>
<text x="78.00" y="137.70" font-size="10.8" text-anchor="middle" fill="#2a2a2a">0.2</text>
<line x1="88.40" y1="152.34" x2="95.30" y2="152.34" stroke="#666" stroke-width="1.0"/>
<text x="78.00" y="155.34" font-size="10.8" text-anchor="middle" fill="#2a2a2a">0.1</text>
<text x="77.80" y="172.80" font-size="10.8" text-anchor="middle" fill="#2a2a2a">0</text>
<text transform="translate(46.00,180.20) rotate(-90)" font-size="10.0" fill="#2a2a2a" textLength="139.00" lengthAdjust="spacingAndGlyphs">Relative expression of ASCT2</text>
<text transform="translate(58.00,184.20) rotate(-90)" font-size="10.0" fill="#2a2a2a" textLength="146.60" lengthAdjust="spacingAndGlyphs">protein normalized with GAPDH</text>
<line x1="137.60" y1="65.00" x2="137.60" y2="79.60" stroke="#222" stroke-width="1.2"/>
<line x1="129.30" y1="65.00" x2="146.10" y2="65.00" stroke="#222" stroke-width="1.4"/>
<line x1="137.60" y1="96.00" x2="137.60" y2="108.10" stroke="#222" stroke-width="1.2"/>
<line x1="129.30" y1="108.10" x2="146.10" y2="108.10" stroke="#222" stroke-width="1.4"/>
<rect x="116.60" y="79.60" width="41.60" height="16.40" fill="#ffffff" stroke="#2a2a2a" stroke-width="1.3"/>
<line x1="116.60" y1="89.40" x2="158.20" y2="89.40" stroke="#222" stroke-width="1.5"/>
<circle cx="137.60" cy="52.20" r="1.5" fill="#111"/>
<path d="M135.80,82.90L139.40,86.50M139.40,82.90L135.80,86.50" stroke="#111" stroke-width="1.3"/>
<circle cx="137.60" cy="95.00" r="1.6" fill="#111"/>
<circle cx="137.60" cy="104.50" r="1.3" fill="#111"/>
<circle cx="137.60" cy="98.00" r="1.2" fill="#111"/>
<line x1="203.60" y1="126.10" x2="203.60" y2="129.40" stroke="#222" stroke-width="1.2"/>
<line x1="195.00" y1="126.10" x2="211.80" y2="126.10" stroke="#222" stroke-width="1.4"/>
<line x1="203.60" y1="146.40" x2="203.60" y2="147.40" stroke="#222" stroke-width="1.2"/>
<line x1="195.00" y1="147.40" x2="211.80" y2="147.40" stroke="#222" stroke-width="1.4"/>
<rect x="182.40" y="129.40" width="42.10" height="17.00" fill="#ececec" stroke="#2a2a2a" stroke-width="1.3"/>
<line x1="182.40" y1="135.10" x2="224.50" y2="135.10" stroke="#222" stroke-width="1.5"/>
<circle cx="203.70" cy="99.80" r="1.5" fill="#111"/>
<circle cx="203.60" cy="135.60" r="1.8" fill="#111"/>
<circle cx="203.60" cy="146.30" r="1.8" fill="#111"/>
<path d="M202.00,129.90L205.20,133.10M205.20,129.90L202.00,133.10" stroke="#111" stroke-width="1.3"/>
<path d="M197.80,78.30L197.80,75.20M197.80,78.30L200.75,77.34M197.80,78.30L199.62,80.81M197.80,78.30L195.98,80.81M197.80,78.30L194.85,77.34" stroke="#111" stroke-width="1.95" stroke-linecap="round" fill="none"/>
<path d="M207.80,78.30L207.80,75.20M207.80,78.30L210.75,77.34M207.80,78.30L209.62,80.81M207.80,78.30L205.98,80.81M207.80,78.30L204.85,77.34" stroke="#111" stroke-width="1.95" stroke-linecap="round" fill="none"/>
<line x1="267.30" y1="87.40" x2="267.30" y2="104.60" stroke="#222" stroke-width="1.2"/>
<line x1="258.60" y1="87.40" x2="275.70" y2="87.40" stroke="#222" stroke-width="1.4"/>
<rect x="246.20" y="104.60" width="42.10" height="32.90" fill="#858585" stroke="#2a2a2a" stroke-width="1.3"/>
<line x1="246.20" y1="128.90" x2="288.30" y2="128.90" stroke="#222" stroke-width="1.5"/>
<path d="M265.30,118.70L269.30,122.70M269.30,118.70L265.30,122.70" stroke="#111" stroke-width="1.3"/>
<circle cx="267.30" cy="119.30" r="1.3" fill="#111"/>
<circle cx="267.30" cy="130.30" r="1.5" fill="#111"/>
<circle cx="267.30" cy="137.70" r="1.5" fill="#111"/>
<path d="M267.05,74.60L267.05,71.50M267.05,74.60L270.00,73.64M267.05,74.60L268.87,77.11M267.05,74.60L265.23,77.11M267.05,74.60L264.10,73.64" stroke="#111" stroke-width="1.95" stroke-linecap="round" fill="none"/>
<text x="136.80" y="188.90" font-size="13.8" text-anchor="middle" fill="#1e1e1e" textLength="43.50" lengthAdjust="spacingAndGlyphs">control</text>
<text x="203.30" y="188.90" font-size="13.8" text-anchor="middle" fill="#1e1e1e" textLength="47.50" lengthAdjust="spacingAndGlyphs">FGR(−)</text>
<text x="266.70" y="188.90" font-size="13.8" text-anchor="middle" fill="#1e1e1e" textLength="49.30" lengthAdjust="spacingAndGlyphs">FGR(+)</text>
<text x="137.00" y="204.30" font-size="10.5" text-anchor="middle" fill="#1e1e1e" textLength="34.70" lengthAdjust="spacingAndGlyphs">(n=10)</text>
<text x="203.80" y="204.30" font-size="10.5" text-anchor="middle" fill="#1e1e1e" textLength="34.20" lengthAdjust="spacingAndGlyphs">(n=10)</text>
<text x="266.70" y="204.30" font-size="10.5" text-anchor="middle" fill="#1e1e1e" textLength="27.50" lengthAdjust="spacingAndGlyphs">(n=7)</text>
<line x1="174.20" y1="213.50" x2="295.20" y2="213.50" stroke="#333" stroke-width="1.1"/>
<text x="235.80" y="231.40" font-size="13.6" text-anchor="middle" fill="#1e1e1e" textLength="44.00" lengthAdjust="spacingAndGlyphs">EO-PE</text>
<line x1="387.60" y1="46.00" x2="387.60" y2="170.40" stroke="#1a1a1a" stroke-width="1.3"/>
<line x1="387.00" y1="169.80" x2="592.00" y2="169.80" stroke="#1a1a1a" stroke-width="1.3"/>
<line x1="381.00" y1="46.50" x2="387.60" y2="46.50" stroke="#666" stroke-width="1.0"/>
<text x="368.30" y="49.50" font-size="10.8" text-anchor="middle" fill="#2a2a2a">1.2</text>
<line x1="381.00" y1="67.08" x2="387.60" y2="67.08" stroke="#666" stroke-width="1.0"/>
<text x="368.30" y="70.08" font-size="10.8" text-anchor="middle" fill="#2a2a2a">1.0</text>
<line x1="381.00" y1="87.66" x2="387.60" y2="87.66" stroke="#666" stroke-width="1.0"/>
<text x="368.30" y="90.66" font-size="10.8" text-anchor="middle" fill="#2a2a2a">0.8</text>
<line x1="381.00" y1="108.24" x2="387.60" y2="108.24" stroke="#666" stroke-width="1.0"/>
<text x="368.30" y="111.24" font-size="10.8" text-anchor="middle" fill="#2a2a2a">0.6</text>
<line x1="381.00" y1="128.82" x2="387.60" y2="128.82" stroke="#666" stroke-width="1.0"/>
<text x="368.30" y="131.82" font-size="10.8" text-anchor="middle" fill="#2a2a2a">0.4</text>
<line x1="381.00" y1="149.40" x2="387.60" y2="149.40" stroke="#666" stroke-width="1.0"/>
<text x="368.30" y="152.40" font-size="10.8" text-anchor="middle" fill="#2a2a2a">0.2</text>
<text x="366.60" y="172.80" font-size="10.8" text-anchor="middle" fill="#2a2a2a">0</text>
<text transform="translate(337.00,180.20) rotate(-90)" font-size="10.0" fill="#2a2a2a" textLength="139.00" lengthAdjust="spacingAndGlyphs">Relative expression of ASCT2</text>
<text transform="translate(349.60,184.20) rotate(-90)" font-size="10.0" fill="#2a2a2a" textLength="146.60" lengthAdjust="spacingAndGlyphs">protein normalized with GAPDH</text>
<line x1="431.10" y1="88.70" x2="431.10" y2="99.30" stroke="#222" stroke-width="1.2"/>
<line x1="422.70" y1="88.70" x2="439.30" y2="88.70" stroke="#222" stroke-width="1.4"/>
<line x1="431.10" y1="109.30" x2="431.10" y2="110.60" stroke="#222" stroke-width="1.2"/>
<line x1="422.70" y1="110.60" x2="439.30" y2="110.60" stroke="#222" stroke-width="1.4"/>
<rect x="410.10" y="99.30" width="41.80" height="10.00" fill="#ffffff" stroke="#2a2a2a" stroke-width="1.3"/>
<line x1="410.10" y1="101.80" x2="451.90" y2="101.80" stroke="#222" stroke-width="1.5"/>
<circle cx="430.80" cy="132.10" r="1.5" fill="#111"/>
<circle cx="431.10" cy="103.50" r="1.4" fill="#111"/>
<path d="M429.50,102.90L432.70,106.10M432.70,102.90L429.50,106.10" stroke="#111" stroke-width="1.3"/>
<line x1="496.50" y1="140.40" x2="496.50" y2="143.90" stroke="#222" stroke-width="1.2"/>
<line x1="488.50" y1="143.90" x2="505.00" y2="143.90" stroke="#222" stroke-width="1.4"/>
<rect x="475.60" y="134.40" width="41.80" height="6.00" fill="#ffffff" stroke="#2a2a2a" stroke-width="1.3"/>
<line x1="475.60" y1="139.50" x2="517.40" y2="139.50" stroke="#222" stroke-width="1.5"/>
<circle cx="496.50" cy="124.30" r="1.5" fill="#111"/>
<path d="M494.90,134.90L498.10,138.10M498.10,134.90L494.90,138.10" stroke="#111" stroke-width="1.3"/>
<path d="M495.50,110.30L495.50,107.20M495.50,110.30L498.45,109.34M495.50,110.30L497.32,112.81M495.50,110.30L493.68,112.81M495.50,110.30L492.55,109.34" stroke="#111" stroke-width="1.95" stroke-linecap="round" fill="none"/>
<line x1="559.50" y1="61.90" x2="559.50" y2="91.30" stroke="#222" stroke-width="1.2"/>
<line x1="551.00" y1="61.90" x2="568.00" y2="61.90" stroke="#222" stroke-width="1.4"/>
<line x1="559.50" y1="118.20" x2="559.50" y2="123.90" stroke="#222" stroke-width="1.2"/>
<line x1="551.00" y1="123.90" x2="568.00" y2="123.90" stroke="#222" stroke-width="1.4"/>
<rect x="538.20" y="91.30" width="42.00" height="26.90" fill="#858585" stroke="#2a2a2a" stroke-width="1.3"/>
<line x1="538.20" y1="108.20" x2="580.20" y2="108.20" stroke="#222" stroke-width="1.5"/>
<path d="M557.50,98.80L561.50,102.80M561.50,98.80L557.50,102.80" stroke="#111" stroke-width="1.3"/>
<circle cx="559.50" cy="117.00" r="1.4" fill="#111"/>
<text x="562.20" y="52.60" font-size="15" text-anchor="middle" fill="#1e1e1e" textLength="24.20" lengthAdjust="spacingAndGlyphs">n.s.</text>
<text x="432.50" y="188.90" font-size="13.8" text-anchor="middle" fill="#1e1e1e" textLength="44.10" lengthAdjust="spacingAndGlyphs">control</text>
<text x="495.70" y="188.90" font-size="13.8" text-anchor="middle" fill="#1e1e1e" textLength="48.30" lengthAdjust="spacingAndGlyphs">FGR(−)</text>
<text x="558.60" y="188.90" font-size="13.8" text-anchor="middle" fill="#1e1e1e" textLength="49.80" lengthAdjust="spacingAndGlyphs">FGR(+)</text>
<text x="425.50" y="204.30" font-size="10.5" text-anchor="middle" fill="#1e1e1e" textLength="28.00" lengthAdjust="spacingAndGlyphs">(n=7)</text>
<text x="495.70" y="204.30" font-size="10.5" text-anchor="middle" fill="#1e1e1e" textLength="27.10" lengthAdjust="spacingAndGlyphs">(n=4)</text>
<text x="559.00" y="204.30" font-size="10.5" text-anchor="middle" fill="#1e1e1e" textLength="26.70" lengthAdjust="spacingAndGlyphs">(n=4)</text>
<line x1="465.20" y1="213.20" x2="586.40" y2="213.20" stroke="#333" stroke-width="1.1"/>
<text x="527.10" y="231.40" font-size="13.6" text-anchor="middle" fill="#1e1e1e" textLength="43.40" lengthAdjust="spacingAndGlyphs">LO-PE</text>
<line x1="613.60" y1="35.90" x2="613.60" y2="224.30" stroke="#222" stroke-width="1.3"/>
<text transform="translate(634.90,172.00) rotate(-90)" font-size="14.5" fill="#1e1e1e" textLength="94.50" lengthAdjust="spacingAndGlyphs">ASCT2 protein</text>
<text x="3.90" y="277.80" font-size="21" fill="#111">b)</text>
<text x="174.30" y="285.00" font-size="12.5" fill="#111" textLength="25.20" lengthAdjust="spacingAndGlyphs">JAR</text>
<line x1="174.30" y1="287.80" x2="199.50" y2="287.80" stroke="#222" stroke-width="1.1"/>
<text x="118.90" y="305.50" font-size="11.5" fill="#333" textLength="47.40" lengthAdjust="spacingAndGlyphs">si-control</text>
<text x="211.50" y="305.50" font-size="11.5" fill="#333" textLength="50.70" lengthAdjust="spacingAndGlyphs">si-ASCT2</text>
<line x1="88.00" y1="310.30" x2="185.70" y2="310.30" stroke="#8a8a8a" stroke-width="1.2"/>
<line x1="190.50" y1="310.10" x2="287.50" y2="310.10" stroke="#8a8a8a" stroke-width="1.2"/>
<path d="M88.00,331.50L186.30,331.50L186.30,316.50Z" fill="#f4f4f4" stroke="#444" stroke-width="0.95" stroke-linejoin="miter"/>
<path d="M190.50,331.30L288.00,331.30L288.00,316.80Z" fill="#f4f4f4" stroke="#444" stroke-width="0.95" stroke-linejoin="miter"/>
<text x="92.90" y="328.80" font-size="12" fill="#1e1e1e">0</text>
<text x="174.30" y="328.80" font-size="12" fill="#1e1e1e">3</text>
<text x="193.50" y="328.80" font-size="12" fill="#1e1e1e">0</text>
<text x="274.60" y="328.80" font-size="12" fill="#1e1e1e">3</text>
<text x="295.70" y="327.80" font-size="11.2" fill="#1e1e1e" textLength="32.70" lengthAdjust="spacingAndGlyphs">(pmol)</text>
<text x="353.10" y="278.30" font-size="21" fill="#111">c)</text>
<text x="465.70" y="285.20" font-size="12.5" fill="#111" textLength="85.50" lengthAdjust="spacingAndGlyphs">HTR8-SUPYN</text>
<line x1="465.70" y1="287.80" x2="551.20" y2="287.80" stroke="#222" stroke-width="1.1"/>
<text x="440.80" y="305.50" font-size="11.5" fill="#333" textLength="47.40" lengthAdjust="spacingAndGlyphs">si-control</text>
<text x="533.30" y="305.50" font-size="11.5" fill="#333" textLength="51.40" lengthAdjust="spacingAndGlyphs">si-ASCT2</text>
<line x1="410.90" y1="310.20" x2="508.00" y2="310.20" stroke="#8a8a8a" stroke-width="1.2"/>
<line x1="512.90" y1="310.10" x2="610.20" y2="310.10" stroke="#8a8a8a" stroke-width="1.2"/>
<path d="M410.90,331.30L509.00,331.30L509.00,317.00Z" fill="#f4f4f4" stroke="#444" stroke-width="0.95" stroke-linejoin="miter"/>
<path d="M513.40,331.20L610.70,331.20L610.70,317.10Z" fill="#f4f4f4" stroke="#444" stroke-width="0.95" stroke-linejoin="miter"/>
<text x="415.00" y="328.80" font-size="12" fill="#1e1e1e">0</text>
<text x="496.00" y="328.80" font-size="12" fill="#1e1e1e">3</text>
<text x="515.40" y="328.80" font-size="12" fill="#1e1e1e">0</text>
<text x="596.80" y="328.80" font-size="12" fill="#1e1e1e">3</text>
<text x="617.50" y="327.80" font-size="11.2" fill="#1e1e1e" textLength="33.20" lengthAdjust="spacingAndGlyphs">(pmol)</text>
<text x="43.50" y="345.20" font-size="11" fill="#1e1e1e" textLength="28.40" lengthAdjust="spacingAndGlyphs">(kDa)</text>
<text x="64.60" y="366.20" font-size="10.9" text-anchor="end" fill="#1e1e1e" textLength="13.00" lengthAdjust="spacingAndGlyphs">70</text>
<line x1="70.20" y1="364.80" x2="78.20" y2="364.80" stroke="#222" stroke-width="1.6"/>
<text x="64.60" y="395.60" font-size="10.9" text-anchor="end" fill="#1e1e1e" textLength="13.00" lengthAdjust="spacingAndGlyphs">53</text>
<line x1="70.20" y1="393.50" x2="78.20" y2="393.50" stroke="#222" stroke-width="1.6"/>
<text x="64.60" y="429.90" font-size="10.9" text-anchor="end" fill="#1e1e1e" textLength="13.00" lengthAdjust="spacingAndGlyphs">41</text>
<line x1="70.20" y1="428.00" x2="78.20" y2="428.00" stroke="#222" stroke-width="1.6"/>
<text x="64.60" y="460.30" font-size="10.9" text-anchor="end" fill="#1e1e1e" textLength="13.00" lengthAdjust="spacingAndGlyphs">41</text>
<line x1="70.20" y1="455.90" x2="78.20" y2="455.90" stroke="#222" stroke-width="1.6"/>
<text x="64.60" y="496.20" font-size="10.9" text-anchor="end" fill="#1e1e1e" textLength="13.00" lengthAdjust="spacingAndGlyphs">14</text>
<line x1="70.20" y1="492.30" x2="78.20" y2="492.30" stroke="#222" stroke-width="1.6"/>
<text x="366.10" y="345.20" font-size="11" fill="#1e1e1e" textLength="28.40" lengthAdjust="spacingAndGlyphs">(kDa)</text>
<text x="387.60" y="366.20" font-size="10.9" text-anchor="end" fill="#1e1e1e" textLength="13.00" lengthAdjust="spacingAndGlyphs">70</text>
<line x1="393.50" y1="364.80" x2="400.90" y2="364.80" stroke="#222" stroke-width="1.6"/>
<text x="387.60" y="395.60" font-size="10.9" text-anchor="end" fill="#1e1e1e" textLength="13.00" lengthAdjust="spacingAndGlyphs">53</text>
<line x1="393.50" y1="393.50" x2="400.90" y2="393.50" stroke="#222" stroke-width="1.6"/>
<text x="387.60" y="429.90" font-size="10.9" text-anchor="end" fill="#1e1e1e" textLength="13.00" lengthAdjust="spacingAndGlyphs">41</text>
<line x1="393.50" y1="428.00" x2="400.90" y2="428.00" stroke="#222" stroke-width="1.6"/>
<text x="387.60" y="460.30" font-size="10.9" text-anchor="end" fill="#1e1e1e" textLength="13.00" lengthAdjust="spacingAndGlyphs">41</text>
<line x1="393.50" y1="455.90" x2="400.90" y2="455.90" stroke="#222" stroke-width="1.6"/>
<text x="387.60" y="496.20" font-size="10.9" text-anchor="end" fill="#1e1e1e" textLength="13.00" lengthAdjust="spacingAndGlyphs">14</text>
<line x1="393.50" y1="492.30" x2="400.90" y2="492.30" stroke="#222" stroke-width="1.6"/>
<text x="300.00" y="391.00" font-size="11.8" fill="#1e1e1e" textLength="53.20" lengthAdjust="spacingAndGlyphs">IB-ASCT2</text>
<text x="300.00" y="460.00" font-size="11.8" fill="#1e1e1e" textLength="53.20" lengthAdjust="spacingAndGlyphs">IB-β–actin</text>
<text x="300.00" y="495.70" font-size="11.8" fill="#1e1e1e" textLength="56.90" lengthAdjust="spacingAndGlyphs">IB-SUPYN</text>
<text x="621.70" y="391.00" font-size="11.8" fill="#1e1e1e" textLength="53.20" lengthAdjust="spacingAndGlyphs">IB-ASCT2</text>
<text x="621.70" y="460.00" font-size="11.8" fill="#1e1e1e" textLength="53.20" lengthAdjust="spacingAndGlyphs">IB-β–actin</text>
<text x="621.70" y="495.70" font-size="11.8" fill="#1e1e1e" textLength="56.90" lengthAdjust="spacingAndGlyphs">IB-SUPYN</text>
<rect x="83.30" y="335.80" width="207.20" height="94.70" fill="#f8f8f8" stroke="none" stroke-width="1.0"/>
<clipPath id="cb1"><rect x="83.3" y="335.8" width="207.2" height="94.7"/></clipPath>
<g clip-path="url(#cb1)">
<rect x="90.40" y="334" width="12.0" height="98" fill="url(#g1)" filter="url(#bl)"/>
<ellipse cx="96.40" cy="392.3" rx="6.1" ry="9.6" fill="#000" opacity="1" filter="url(#b1)"/>
<rect x="110.50" y="334" width="12.0" height="98" fill="url(#g2)" filter="url(#bl)"/>
<ellipse cx="116.50" cy="392.3" rx="6.1" ry="9.6" fill="#000" opacity="1" filter="url(#b1)"/>
<rect x="130.60" y="334" width="12.0" height="98" fill="url(#g3)" filter="url(#bl)"/>
<ellipse cx="136.60" cy="392.3" rx="6.1" ry="9.6" fill="#000" opacity="1" filter="url(#b1)"/>
<rect x="150.70" y="334" width="12.0" height="98" fill="url(#g4)" filter="url(#bl)"/>
<ellipse cx="156.70" cy="392.3" rx="6.4" ry="10.5" fill="#000" opacity="1" filter="url(#b1)"/>
<rect x="170.80" y="334" width="12.0" height="98" fill="url(#g5)" filter="url(#bl)"/>
<ellipse cx="176.80" cy="392.3" rx="5.8" ry="9.5" fill="#000" opacity="1" filter="url(#b1)"/>
<rect x="190.90" y="334" width="12.0" height="98" fill="url(#g6)" filter="url(#bl)"/>
<ellipse cx="196.90" cy="392.3" rx="6.1" ry="9.6" fill="#000" opacity="1" filter="url(#b1)"/>
<rect x="211.00" y="334" width="12.0" height="98" fill="url(#g7)" filter="url(#bl)"/>
<ellipse cx="217.00" cy="392.3" rx="3.8" ry="6.0" fill="#000" opacity="0.8" filter="url(#b1)"/>
<rect x="231.10" y="334" width="12.0" height="98" fill="url(#g8)" filter="url(#bl)"/>
<rect x="251.20" y="334" width="12.0" height="98" fill="url(#g9)" filter="url(#bl)"/>
<rect x="271.30" y="334" width="12.0" height="98" fill="url(#g10)" filter="url(#bl)"/>
<ellipse cx="176.80" cy="375" rx="2.2" ry="9" fill="#000" opacity="0.8" filter="url(#b1)"/>
</g>
<rect x="83.30" y="335.80" width="207.20" height="94.70" fill="none" stroke="#1a1a1a" stroke-width="1.5"/>
<rect x="83.30" y="442.60" width="207.20" height="21.60" fill="#f5f5f5" stroke="none" stroke-width="1.0"/>
<rect x="92.00" y="452.30" width="12.6" height="2.8" rx="1.4" fill="#000" opacity="0.6" filter="url(#bsu)"/>
<rect x="111.85" y="452.65" width="12.6" height="2.8" rx="1.4" fill="#000" opacity="0.55" filter="url(#bsu)"/>
<rect x="131.70" y="453.00" width="12.6" height="2.8" rx="1.4" fill="#000" opacity="0.57" filter="url(#bsu)"/>
<rect x="151.55" y="453.35" width="12.6" height="2.8" rx="1.4" fill="#000" opacity="0.6" filter="url(#bsu)"/>
<rect x="171.40" y="453.03" width="12.6" height="2.8" rx="1.4" fill="#000" opacity="0.63" filter="url(#bsu)"/>
<rect x="191.25" y="452.71" width="12.6" height="2.8" rx="1.4" fill="#000" opacity="0.68" filter="url(#bsu)"/>
<rect x="211.10" y="452.39" width="12.6" height="2.8" rx="1.4" fill="#000" opacity="0.76" filter="url(#bsu)"/>
<rect x="230.95" y="452.07" width="12.6" height="2.8" rx="1.4" fill="#000" opacity="0.88" filter="url(#bsu)"/>
<rect x="250.80" y="451.75" width="12.6" height="2.8" rx="1.4" fill="#000" opacity="0.9" filter="url(#bsu)"/>
<rect x="270.65" y="451.43" width="12.6" height="2.8" rx="1.4" fill="#000" opacity="0.93" filter="url(#bsu)"/>
<rect x="83.30" y="442.60" width="207.20" height="21.60" fill="none" stroke="#1a1a1a" stroke-width="1.5"/>
<rect x="83.30" y="476.10" width="207.20" height="29.30" fill="#ebebeb" stroke="none" stroke-width="1.0"/>
<rect x="92.95" y="476" width="12.5" height="29.399999999999977" fill="url(#g11)" filter="url(#bsb)"/>
<rect x="113.05" y="476" width="12.5" height="29.399999999999977" fill="url(#g12)" filter="url(#bsb)"/>
<rect x="133.15" y="476" width="12.5" height="29.399999999999977" fill="url(#g13)" filter="url(#bsb)"/>
<rect x="153.25" y="476" width="12.5" height="29.399999999999977" fill="url(#g14)" filter="url(#bsb)"/>
<rect x="173.35" y="476" width="12.5" height="29.399999999999977" fill="url(#g15)" filter="url(#bsb)"/>
<rect x="193.45" y="476" width="12.5" height="29.399999999999977" fill="url(#g16)" filter="url(#bsb)"/>
<rect x="213.55" y="476" width="12.5" height="29.399999999999977" fill="url(#g17)" filter="url(#bsb)"/>
<rect x="233.65" y="476" width="12.5" height="29.399999999999977" fill="url(#g18)" filter="url(#bsb)"/>
<rect x="253.75" y="476" width="12.5" height="29.399999999999977" fill="url(#g19)" filter="url(#bsb)"/>
<rect x="273.85" y="476" width="12.5" height="29.399999999999977" fill="url(#g20)" filter="url(#bsb)"/>
<rect x="83.30" y="476.10" width="207.20" height="29.30" fill="none" stroke="#1a1a1a" stroke-width="1.5"/>
<rect x="405.30" y="335.80" width="208.00" height="94.70" fill="#f8f8f8" stroke="none" stroke-width="1.0"/>
<clipPath id="cc1"><rect x="405.3" y="335.8" width="207.99999999999994" height="94.7"/></clipPath>
<g clip-path="url(#cc1)">
<rect x="412.75" y="334" width="12.5" height="98" fill="url(#g21)" filter="url(#blc)"/>
<ellipse cx="419.00" cy="396.0" rx="6.4" ry="4.6" fill="#000" opacity="1" filter="url(#b1)"/>
<rect x="432.75" y="334" width="12.5" height="98" fill="url(#g22)" filter="url(#blc)"/>
<ellipse cx="439.00" cy="396.0" rx="6.4" ry="4.6" fill="#000" opacity="1" filter="url(#b1)"/>
<rect x="452.75" y="334" width="12.5" height="98" fill="url(#g23)" filter="url(#blc)"/>
<rect x="472.75" y="334" width="12.5" height="98" fill="url(#g24)" filter="url(#blc)"/>
<rect x="492.75" y="334" width="12.5" height="98" fill="url(#g25)" filter="url(#blc)"/>
<rect x="512.75" y="334" width="12.5" height="98" fill="url(#g26)" filter="url(#blc)"/>
<ellipse cx="519.00" cy="396.0" rx="6.4" ry="4.6" fill="#000" opacity="1" filter="url(#b1)"/>
<rect x="532.75" y="334" width="12.5" height="98" fill="url(#g27)" filter="url(#blc)"/>
<rect x="552.75" y="334" width="12.5" height="98" fill="url(#g28)" filter="url(#blc)"/>
<rect x="572.75" y="334" width="12.5" height="98" fill="url(#g29)" filter="url(#blc)"/>
<rect x="592.75" y="334" width="12.5" height="98" fill="url(#g30)" filter="url(#blc)"/>
</g>
<rect x="405.30" y="335.80" width="208.00" height="94.70" fill="none" stroke="#1a1a1a" stroke-width="1.5"/>
<rect x="405.30" y="442.60" width="208.00" height="21.60" fill="#f7f7f7" stroke="none" stroke-width="1.0"/>
<rect x="409.00" y="452.70" width="13.2" height="3.2" rx="1.6" fill="#000" opacity="1" filter="url(#bsu)"/>
<rect x="430.10" y="452.70" width="13.2" height="3.2" rx="1.6" fill="#000" opacity="1" filter="url(#bsu)"/>
<rect x="451.20" y="452.70" width="13.2" height="3.2" rx="1.6" fill="#000" opacity="1" filter="url(#bsu)"/>
<rect x="472.30" y="452.70" width="13.2" height="3.2" rx="1.6" fill="#000" opacity="1" filter="url(#bsu)"/>
<rect x="493.40" y="452.70" width="13.2" height="3.2" rx="1.6" fill="#000" opacity="0.95" filter="url(#bsu)"/>
<rect x="514.50" y="452.70" width="13.2" height="3.2" rx="1.6" fill="#000" opacity="1" filter="url(#bsu)"/>
<rect x="535.60" y="452.30" width="13.2" height="3.2" rx="1.6" fill="#000" opacity="0.85" filter="url(#bsu)"/>
<rect x="556.70" y="451.90" width="13.2" height="3.2" rx="1.6" fill="#000" opacity="0.85" filter="url(#bsu)"/>
<rect x="577.80" y="451.50" width="13.2" height="3.2" rx="1.6" fill="#000" opacity="0.85" filter="url(#bsu)"/>
<rect x="598.90" y="451.10" width="13.2" height="3.2" rx="1.6" fill="#000" opacity="0.9" filter="url(#bsu)"/>
<rect x="405.30" y="442.60" width="208.00" height="21.60" fill="none" stroke="#1a1a1a" stroke-width="1.5"/>
<rect x="405.30" y="476.10" width="208.00" height="29.30" fill="#ededed" stroke="none" stroke-width="1.0"/>
<rect x="410.55" y="476" width="12.5" height="29.399999999999977" fill="url(#g31)" filter="url(#bsu)"/>
<rect x="430.55" y="476" width="12.5" height="29.399999999999977" fill="url(#g32)" filter="url(#bsu)"/>
<rect x="450.55" y="476" width="12.5" height="29.399999999999977" fill="url(#g33)" filter="url(#bsu)"/>
<rect x="470.55" y="476" width="12.5" height="29.399999999999977" fill="url(#g34)" filter="url(#bsu)"/>
<rect x="490.55" y="476" width="12.5" height="29.399999999999977" fill="url(#g35)" filter="url(#bsu)"/>
<rect x="510.55" y="476" width="12.5" height="29.399999999999977" fill="url(#g36)" filter="url(#bsu)"/>
<rect x="530.55" y="476" width="12.5" height="29.399999999999977" fill="url(#g37)" filter="url(#bsu)"/>
<rect x="550.55" y="476" width="12.5" height="29.399999999999977" fill="url(#g38)" filter="url(#bsu)"/>
<rect x="570.55" y="476" width="12.5" height="29.399999999999977" fill="url(#g39)" filter="url(#bsu)"/>
<rect x="590.55" y="476" width="12.5" height="29.399999999999977" fill="url(#g40)" filter="url(#bsu)"/>
<rect x="405.30" y="476.10" width="208.00" height="29.30" fill="none" stroke="#1a1a1a" stroke-width="1.5"/>
<line x1="81.80" y1="532.00" x2="291.00" y2="532.00" stroke="#999" stroke-width="1" stroke-dasharray="1.6 1.4"/>
<line x1="81.80" y1="544.20" x2="291.00" y2="544.20" stroke="#999" stroke-width="1" stroke-dasharray="1.6 1.4"/>
<line x1="81.80" y1="556.40" x2="291.00" y2="556.40" stroke="#999" stroke-width="1" stroke-dasharray="1.6 1.4"/>
<line x1="81.80" y1="568.60" x2="291.00" y2="568.60" stroke="#999" stroke-width="1" stroke-dasharray="1.6 1.4"/>
<line x1="81.80" y1="580.80" x2="291.00" y2="580.80" stroke="#999" stroke-width="1" stroke-dasharray="1.6 1.4"/>
<line x1="81.80" y1="593.00" x2="291.00" y2="593.00" stroke="#999" stroke-width="1" stroke-dasharray="1.6 1.4"/>
<line x1="81.80" y1="605.20" x2="291.00" y2="605.20" stroke="#999" stroke-width="1" stroke-dasharray="1.6 1.4"/>
<line x1="81.80" y1="617.40" x2="291.00" y2="617.40" stroke="#999" stroke-width="1" stroke-dasharray="1.6 1.4"/>
<line x1="81.80" y1="629.60" x2="291.00" y2="629.60" stroke="#999" stroke-width="1" stroke-dasharray="1.6 1.4"/>
<line x1="81.80" y1="641.80" x2="291.00" y2="641.80" stroke="#999" stroke-width="1" stroke-dasharray="1.6 1.4"/>
<rect x="89.60" y="590.40" width="13.20" height="63.10" fill="#ffffff" stroke="#7a7a7a" stroke-width="1.1"/>
<rect x="110.30" y="590.40" width="13.10" height="63.10" fill="#ffffff" stroke="#7a7a7a" stroke-width="1.1"/>
<rect x="130.90" y="587.40" width="13.60" height="66.10" fill="#ffffff" stroke="#7a7a7a" stroke-width="1.1"/>
<rect x="151.50" y="583.40" width="13.50" height="70.10" fill="#ffffff" stroke="#7a7a7a" stroke-width="1.1"/>
<rect x="172.30" y="583.40" width="12.80" height="70.10" fill="#ffffff" stroke="#7a7a7a" stroke-width="1.1"/>
<rect x="193.20" y="589.70" width="12.80" height="63.80" fill="#dcdcdc" stroke="#7a7a7a" stroke-width="1.1"/>
<rect x="213.60" y="566.80" width="13.10" height="86.70" fill="#dcdcdc" stroke="#7a7a7a" stroke-width="1.1"/>
<rect x="234.40" y="563.30" width="13.10" height="90.20" fill="#dcdcdc" stroke="#7a7a7a" stroke-width="1.1"/>
<rect x="255.10" y="559.40" width="13.50" height="94.10" fill="#dcdcdc" stroke="#7a7a7a" stroke-width="1.1"/>
<rect x="276.00" y="556.30" width="13.50" height="97.20" fill="#dcdcdc" stroke="#7a7a7a" stroke-width="1.1"/>
<line x1="96.20" y1="587.30" x2="96.20" y2="593.20" stroke="#1e1e1e" stroke-width="1.4"/>
<line x1="93.20" y1="587.30" x2="99.20" y2="587.30" stroke="#1e1e1e" stroke-width="1.4"/>
<line x1="93.20" y1="593.20" x2="99.20" y2="593.20" stroke="#1e1e1e" stroke-width="1.4"/>
<line x1="115.90" y1="585.40" x2="115.90" y2="597.00" stroke="#1e1e1e" stroke-width="1.4"/>
<line x1="112.90" y1="585.40" x2="118.90" y2="585.40" stroke="#1e1e1e" stroke-width="1.4"/>
<line x1="112.90" y1="597.00" x2="118.90" y2="597.00" stroke="#1e1e1e" stroke-width="1.4"/>
<line x1="136.60" y1="580.00" x2="136.60" y2="596.60" stroke="#1e1e1e" stroke-width="1.4"/>
<line x1="133.60" y1="580.00" x2="139.60" y2="580.00" stroke="#1e1e1e" stroke-width="1.4"/>
<line x1="133.60" y1="596.60" x2="139.60" y2="596.60" stroke="#1e1e1e" stroke-width="1.4"/>
<line x1="158.00" y1="575.50" x2="158.00" y2="593.20" stroke="#1e1e1e" stroke-width="1.4"/>
<line x1="155.00" y1="575.50" x2="161.00" y2="575.50" stroke="#1e1e1e" stroke-width="1.4"/>
<line x1="155.00" y1="593.20" x2="161.00" y2="593.20" stroke="#1e1e1e" stroke-width="1.4"/>
<line x1="178.60" y1="570.80" x2="178.60" y2="599.70" stroke="#1e1e1e" stroke-width="1.4"/>
<line x1="175.60" y1="570.80" x2="181.60" y2="570.80" stroke="#1e1e1e" stroke-width="1.4"/>
<line x1="175.60" y1="599.70" x2="181.60" y2="599.70" stroke="#1e1e1e" stroke-width="1.4"/>
<line x1="199.50" y1="586.60" x2="199.50" y2="595.00" stroke="#1e1e1e" stroke-width="1.4"/>
<line x1="196.50" y1="586.60" x2="202.50" y2="586.60" stroke="#1e1e1e" stroke-width="1.4"/>
<line x1="196.50" y1="595.00" x2="202.50" y2="595.00" stroke="#1e1e1e" stroke-width="1.4"/>
<line x1="219.80" y1="551.20" x2="219.80" y2="583.40" stroke="#1e1e1e" stroke-width="1.4"/>
<line x1="216.80" y1="551.20" x2="222.80" y2="551.20" stroke="#1e1e1e" stroke-width="1.4"/>
<line x1="216.80" y1="583.40" x2="222.80" y2="583.40" stroke="#1e1e1e" stroke-width="1.4"/>
<line x1="240.80" y1="547.50" x2="240.80" y2="580.80" stroke="#1e1e1e" stroke-width="1.4"/>
<line x1="237.80" y1="547.50" x2="243.80" y2="547.50" stroke="#1e1e1e" stroke-width="1.4"/>
<line x1="237.80" y1="580.80" x2="243.80" y2="580.80" stroke="#1e1e1e" stroke-width="1.4"/>
<line x1="261.70" y1="544.20" x2="261.70" y2="574.80" stroke="#1e1e1e" stroke-width="1.4"/>
<line x1="258.70" y1="544.20" x2="264.70" y2="544.20" stroke="#1e1e1e" stroke-width="1.4"/>
<line x1="258.70" y1="574.80" x2="264.70" y2="574.80" stroke="#1e1e1e" stroke-width="1.4"/>
<line x1="282.50" y1="542.80" x2="282.50" y2="572.60" stroke="#1e1e1e" stroke-width="1.4"/>
<line x1="279.50" y1="542.80" x2="285.50" y2="542.80" stroke="#1e1e1e" stroke-width="1.4"/>
<line x1="279.50" y1="572.60" x2="285.50" y2="572.60" stroke="#1e1e1e" stroke-width="1.4"/>
<line x1="73.00" y1="532.00" x2="80.80" y2="532.00" stroke="#555" stroke-width="1.2"/>
<text x="68.30" y="534.80" font-size="10.4" text-anchor="end" fill="#2a2a2a">1.5</text>
<line x1="73.00" y1="544.20" x2="80.80" y2="544.20" stroke="#555" stroke-width="1.2"/>
<text x="68.30" y="547.00" font-size="10.4" text-anchor="end" fill="#2a2a2a">1.4</text>
<line x1="73.00" y1="556.40" x2="80.80" y2="556.40" stroke="#555" stroke-width="1.2"/>
<text x="68.30" y="559.20" font-size="10.4" text-anchor="end" fill="#2a2a2a">1.3</text>
<line x1="73.00" y1="568.60" x2="80.80" y2="568.60" stroke="#555" stroke-width="1.2"/>
<text x="68.30" y="571.40" font-size="10.4" text-anchor="end" fill="#2a2a2a">1.2</text>
<line x1="73.00" y1="580.80" x2="80.80" y2="580.80" stroke="#555" stroke-width="1.2"/>
<text x="68.30" y="583.60" font-size="10.4" text-anchor="end" fill="#2a2a2a">1.1</text>
<line x1="73.00" y1="593.00" x2="80.80" y2="593.00" stroke="#555" stroke-width="1.2"/>
<text x="68.30" y="595.80" font-size="10.4" text-anchor="end" fill="#2a2a2a">1.0</text>
<line x1="73.00" y1="605.20" x2="80.80" y2="605.20" stroke="#555" stroke-width="1.2"/>
<text x="68.30" y="608.00" font-size="10.4" text-anchor="end" fill="#2a2a2a">0.9</text>
<line x1="73.00" y1="617.40" x2="80.80" y2="617.40" stroke="#555" stroke-width="1.2"/>
<text x="68.30" y="620.20" font-size="10.4" text-anchor="end" fill="#2a2a2a">0.8</text>
<line x1="73.00" y1="629.60" x2="80.80" y2="629.60" stroke="#555" stroke-width="1.2"/>
<text x="68.30" y="632.40" font-size="10.4" text-anchor="end" fill="#2a2a2a">0.7</text>
<line x1="73.00" y1="641.80" x2="80.80" y2="641.80" stroke="#555" stroke-width="1.2"/>
<text x="68.30" y="644.60" font-size="10.4" text-anchor="end" fill="#2a2a2a">0.5</text>
<line x1="80.80" y1="530.50" x2="80.80" y2="654.30" stroke="#111" stroke-width="1.6"/>
<line x1="80.30" y1="653.50" x2="291.00" y2="653.50" stroke="#111" stroke-width="1.6"/>
<polygon points="220.00,543.20 220.81,545.38 223.14,545.48 221.32,546.93 221.94,549.17 220.00,547.89 218.06,549.17 218.68,546.93 216.86,545.48 219.19,545.38" fill="#111"/>
<polygon points="240.80,539.60 241.61,541.78 243.94,541.88 242.12,543.33 242.74,545.57 240.80,544.29 238.86,545.57 239.48,543.33 237.66,541.88 239.99,541.78" fill="#111"/>
<polygon points="258.00,536.20 258.79,538.31 261.04,538.41 259.28,539.82 259.88,541.99 258.00,540.74 256.12,541.99 256.72,539.82 254.96,538.41 257.21,538.31" fill="#111"/>
<polygon points="265.20,536.20 265.99,538.31 268.24,538.41 266.48,539.82 267.08,541.99 265.20,540.74 263.32,541.99 263.92,539.82 262.16,538.41 264.41,538.31" fill="#111"/>
<polygon points="278.80,534.20 279.59,536.31 281.84,536.41 280.08,537.82 280.68,539.99 278.80,538.74 276.92,539.99 277.52,537.82 275.76,536.41 278.01,536.31" fill="#111"/>
<polygon points="286.00,534.20 286.79,536.31 289.04,536.41 287.28,537.82 287.88,539.99 286.00,538.74 284.12,539.99 284.72,537.82 282.96,536.41 285.21,536.31" fill="#111"/>
<text transform="translate(27.60,662.00) rotate(-90)" font-size="10.3" fill="#2a2a2a" textLength="145.40" lengthAdjust="spacingAndGlyphs">Relative expression of secreted</text>
<text transform="translate(40.70,650.30) rotate(-90)" font-size="10.8" fill="#2a2a2a" textLength="122.00" lengthAdjust="spacingAndGlyphs">SUPYN in cell supernatant</text>
<line x1="404.70" y1="532.00" x2="613.70" y2="532.00" stroke="#999" stroke-width="1" stroke-dasharray="1.6 1.4"/>
<line x1="404.70" y1="544.20" x2="613.70" y2="544.20" stroke="#999" stroke-width="1" stroke-dasharray="1.6 1.4"/>
<line x1="404.70" y1="556.40" x2="613.70" y2="556.40" stroke="#999" stroke-width="1" stroke-dasharray="1.6 1.4"/>
<line x1="404.70" y1="568.60" x2="613.70" y2="568.60" stroke="#999" stroke-width="1" stroke-dasharray="1.6 1.4"/>
<line x1="404.70" y1="580.80" x2="613.70" y2="580.80" stroke="#999" stroke-width="1" stroke-dasharray="1.6 1.4"/>
<line x1="404.70" y1="593.00" x2="613.70" y2="593.00" stroke="#999" stroke-width="1" stroke-dasharray="1.6 1.4"/>
<line x1="404.70" y1="605.20" x2="613.70" y2="605.20" stroke="#999" stroke-width="1" stroke-dasharray="1.6 1.4"/>
<line x1="404.70" y1="617.40" x2="613.70" y2="617.40" stroke="#999" stroke-width="1" stroke-dasharray="1.6 1.4"/>
<line x1="404.70" y1="629.60" x2="613.70" y2="629.60" stroke="#999" stroke-width="1" stroke-dasharray="1.6 1.4"/>
<line x1="404.70" y1="641.80" x2="613.70" y2="641.80" stroke="#999" stroke-width="1" stroke-dasharray="1.6 1.4"/>
<rect x="411.30" y="590.10" width="13.80" height="63.40" fill="#ffffff" stroke="#7a7a7a" stroke-width="1.1"/>
<rect x="432.30" y="593.50" width="13.30" height="60.00" fill="#ffffff" stroke="#7a7a7a" stroke-width="1.1"/>
<rect x="453.50" y="599.20" width="13.10" height="54.30" fill="#ffffff" stroke="#7a7a7a" stroke-width="1.1"/>
<rect x="474.50" y="606.20" width="12.80" height="47.30" fill="#ffffff" stroke="#7a7a7a" stroke-width="1.1"/>
<rect x="495.20" y="607.90" width="13.10" height="45.60" fill="#ffffff" stroke="#7a7a7a" stroke-width="1.1"/>
<rect x="515.70" y="589.70" width="13.60" height="63.80" fill="#dcdcdc" stroke="#7a7a7a" stroke-width="1.1"/>
<rect x="536.40" y="570.30" width="13.40" height="83.20" fill="#dcdcdc" stroke="#7a7a7a" stroke-width="1.1"/>
<rect x="557.20" y="563.40" width="12.70" height="90.10" fill="#dcdcdc" stroke="#7a7a7a" stroke-width="1.1"/>
<rect x="578.40" y="557.50" width="12.40" height="96.00" fill="#dcdcdc" stroke="#7a7a7a" stroke-width="1.1"/>
<rect x="599.40" y="552.40" width="12.40" height="101.10" fill="#dcdcdc" stroke="#7a7a7a" stroke-width="1.1"/>
<line x1="418.50" y1="586.30" x2="418.50" y2="592.50" stroke="#1e1e1e" stroke-width="1.4"/>
<line x1="415.50" y1="586.30" x2="421.50" y2="586.30" stroke="#1e1e1e" stroke-width="1.4"/>
<line x1="415.50" y1="592.50" x2="421.50" y2="592.50" stroke="#1e1e1e" stroke-width="1.4"/>
<line x1="439.00" y1="589.30" x2="439.00" y2="598.20" stroke="#1e1e1e" stroke-width="1.4"/>
<line x1="436.00" y1="589.30" x2="442.00" y2="589.30" stroke="#1e1e1e" stroke-width="1.4"/>
<line x1="436.00" y1="598.20" x2="442.00" y2="598.20" stroke="#1e1e1e" stroke-width="1.4"/>
<line x1="459.60" y1="593.90" x2="459.60" y2="602.70" stroke="#1e1e1e" stroke-width="1.4"/>
<line x1="456.60" y1="593.90" x2="462.60" y2="593.90" stroke="#1e1e1e" stroke-width="1.4"/>
<line x1="456.60" y1="602.70" x2="462.60" y2="602.70" stroke="#1e1e1e" stroke-width="1.4"/>
<line x1="480.60" y1="602.30" x2="480.60" y2="608.80" stroke="#1e1e1e" stroke-width="1.4"/>
<line x1="477.60" y1="602.30" x2="483.60" y2="602.30" stroke="#1e1e1e" stroke-width="1.4"/>
<line x1="477.60" y1="608.80" x2="483.60" y2="608.80" stroke="#1e1e1e" stroke-width="1.4"/>
<line x1="500.80" y1="600.00" x2="500.80" y2="612.90" stroke="#1e1e1e" stroke-width="1.4"/>
<line x1="497.80" y1="600.00" x2="503.80" y2="600.00" stroke="#1e1e1e" stroke-width="1.4"/>
<line x1="497.80" y1="612.90" x2="503.80" y2="612.90" stroke="#1e1e1e" stroke-width="1.4"/>
<line x1="522.30" y1="585.30" x2="522.30" y2="592.70" stroke="#1e1e1e" stroke-width="1.4"/>
<line x1="519.30" y1="585.30" x2="525.30" y2="585.30" stroke="#1e1e1e" stroke-width="1.4"/>
<line x1="519.30" y1="592.70" x2="525.30" y2="592.70" stroke="#1e1e1e" stroke-width="1.4"/>
<line x1="542.50" y1="561.50" x2="542.50" y2="579.60" stroke="#1e1e1e" stroke-width="1.4"/>
<line x1="539.50" y1="561.50" x2="545.50" y2="561.50" stroke="#1e1e1e" stroke-width="1.4"/>
<line x1="539.50" y1="579.60" x2="545.50" y2="579.60" stroke="#1e1e1e" stroke-width="1.4"/>
<line x1="563.40" y1="553.90" x2="563.40" y2="570.70" stroke="#1e1e1e" stroke-width="1.4"/>
<line x1="560.40" y1="553.90" x2="566.40" y2="553.90" stroke="#1e1e1e" stroke-width="1.4"/>
<line x1="560.40" y1="570.70" x2="566.40" y2="570.70" stroke="#1e1e1e" stroke-width="1.4"/>
<line x1="584.20" y1="548.20" x2="584.20" y2="566.70" stroke="#1e1e1e" stroke-width="1.4"/>
<line x1="581.20" y1="548.20" x2="587.20" y2="548.20" stroke="#1e1e1e" stroke-width="1.4"/>
<line x1="581.20" y1="566.70" x2="587.20" y2="566.70" stroke="#1e1e1e" stroke-width="1.4"/>
<line x1="605.00" y1="545.50" x2="605.00" y2="559.10" stroke="#1e1e1e" stroke-width="1.4"/>
<line x1="602.00" y1="545.50" x2="608.00" y2="545.50" stroke="#1e1e1e" stroke-width="1.4"/>
<line x1="602.00" y1="559.10" x2="608.00" y2="559.10" stroke="#1e1e1e" stroke-width="1.4"/>
<line x1="395.90" y1="532.00" x2="403.70" y2="532.00" stroke="#555" stroke-width="1.2"/>
<text x="391.50" y="534.80" font-size="10.4" text-anchor="end" fill="#2a2a2a">2.0</text>
<line x1="395.90" y1="544.20" x2="403.70" y2="544.20" stroke="#555" stroke-width="1.2"/>
<text x="391.50" y="547.00" font-size="10.4" text-anchor="end" fill="#2a2a2a">1.8</text>
<line x1="395.90" y1="556.40" x2="403.70" y2="556.40" stroke="#555" stroke-width="1.2"/>
<text x="391.50" y="559.20" font-size="10.4" text-anchor="end" fill="#2a2a2a">1.6</text>
<line x1="395.90" y1="568.60" x2="403.70" y2="568.60" stroke="#555" stroke-width="1.2"/>
<text x="391.50" y="571.40" font-size="10.4" text-anchor="end" fill="#2a2a2a">1.4</text>
<line x1="395.90" y1="580.80" x2="403.70" y2="580.80" stroke="#555" stroke-width="1.2"/>
<text x="391.50" y="583.60" font-size="10.4" text-anchor="end" fill="#2a2a2a">1.2</text>
<line x1="395.90" y1="593.00" x2="403.70" y2="593.00" stroke="#555" stroke-width="1.2"/>
<text x="391.50" y="595.80" font-size="10.4" text-anchor="end" fill="#2a2a2a">1.0</text>
<line x1="395.90" y1="605.20" x2="403.70" y2="605.20" stroke="#555" stroke-width="1.2"/>
<text x="391.50" y="608.00" font-size="10.4" text-anchor="end" fill="#2a2a2a">0.8</text>
<line x1="395.90" y1="617.40" x2="403.70" y2="617.40" stroke="#555" stroke-width="1.2"/>
<text x="391.50" y="620.20" font-size="10.4" text-anchor="end" fill="#2a2a2a">0.6</text>
<line x1="395.90" y1="629.60" x2="403.70" y2="629.60" stroke="#555" stroke-width="1.2"/>
<text x="391.50" y="632.40" font-size="10.4" text-anchor="end" fill="#2a2a2a">0.4</text>
<line x1="395.90" y1="641.80" x2="403.70" y2="641.80" stroke="#555" stroke-width="1.2"/>
<text x="391.50" y="644.60" font-size="10.4" text-anchor="end" fill="#2a2a2a">0.2</text>
<line x1="403.70" y1="530.50" x2="403.70" y2="654.30" stroke="#111" stroke-width="1.6"/>
<line x1="403.20" y1="653.50" x2="613.70" y2="653.50" stroke="#111" stroke-width="1.6"/>
<polygon points="539.60,551.20 540.39,553.31 542.64,553.41 540.88,554.82 541.48,556.99 539.60,555.74 537.72,556.99 538.32,554.82 536.56,553.41 538.81,553.31" fill="#111"/>
<polygon points="546.80,551.20 547.59,553.31 549.84,553.41 548.08,554.82 548.68,556.99 546.80,555.74 544.92,556.99 545.52,554.82 543.76,553.41 546.01,553.31" fill="#111"/>
<polygon points="560.70,544.50 561.49,546.61 563.74,546.71 561.98,548.12 562.58,550.29 560.70,549.04 558.82,550.29 559.42,548.12 557.66,546.71 559.91,546.61" fill="#111"/>
<polygon points="567.90,544.50 568.69,546.61 570.94,546.71 569.18,548.12 569.78,550.29 567.90,549.04 566.02,550.29 566.62,548.12 564.86,546.71 567.11,546.61" fill="#111"/>
<polygon points="581.80,538.40 582.59,540.51 584.84,540.61 583.08,542.02 583.68,544.19 581.80,542.94 579.92,544.19 580.52,542.02 578.76,540.61 581.01,540.51" fill="#111"/>
<polygon points="589.00,538.40 589.79,540.51 592.04,540.61 590.28,542.02 590.88,544.19 589.00,542.94 587.12,544.19 587.72,542.02 585.96,540.61 588.21,540.51" fill="#111"/>
<polygon points="601.00,534.40 601.79,536.51 604.04,536.61 602.28,538.02 602.88,540.19 601.00,538.94 599.12,540.19 599.72,538.02 597.96,536.61 600.21,536.51" fill="#111"/>
<polygon points="608.20,534.40 608.99,536.51 611.24,536.61 609.48,538.02 610.08,540.19 608.20,538.94 606.32,540.19 606.92,538.02 605.16,536.61 607.41,536.51" fill="#111"/>
<text transform="translate(351.50,669.00) rotate(-90)" font-size="10.3" fill="#2a2a2a" textLength="145.70" lengthAdjust="spacingAndGlyphs">Relative expression of secreted</text>
<text transform="translate(364.00,657.80) rotate(-90)" font-size="10.8" fill="#2a2a2a" textLength="123.60" lengthAdjust="spacingAndGlyphs">SUPYN in cell supernatant</text>
<path d="M85.40,675.50L183.50,675.50L183.50,659.90Z" fill="#f4f4f4" stroke="#444" stroke-width="0.95" stroke-linejoin="miter"/>
<path d="M187.30,675.50L284.30,675.50L284.30,659.60Z" fill="#f4f4f4" stroke="#444" stroke-width="0.95" stroke-linejoin="miter"/>
<text x="90.20" y="672.40" font-size="11" fill="#1e1e1e">0</text>
<text x="191.00" y="672.40" font-size="11" fill="#1e1e1e">0</text>
<text x="170.80" y="672.40" font-size="11" fill="#1e1e1e">3</text>
<text x="271.40" y="672.40" font-size="11" fill="#1e1e1e">3</text>
<text x="292.30" y="671.60" font-size="11.2" fill="#1e1e1e" textLength="33.20" lengthAdjust="spacingAndGlyphs">(pmol)</text>
<line x1="85.40" y1="680.40" x2="183.00" y2="680.40" stroke="#7a7a7a" stroke-width="1.6"/>
<line x1="187.30" y1="680.40" x2="284.30" y2="680.40" stroke="#7a7a7a" stroke-width="1.6"/>
<text x="116.70" y="693.20" font-size="11.5" fill="#2a2a2a" textLength="47.50" lengthAdjust="spacingAndGlyphs">si-control</text>
<text x="209.20" y="693.40" font-size="11.5" fill="#2a2a2a" textLength="50.80" lengthAdjust="spacingAndGlyphs">si-ASCT2</text>
<path d="M407.90,675.50L505.40,675.50L505.40,659.90Z" fill="#f4f4f4" stroke="#444" stroke-width="0.95" stroke-linejoin="miter"/>
<path d="M509.70,675.50L607.50,675.50L607.50,659.60Z" fill="#f4f4f4" stroke="#444" stroke-width="0.95" stroke-linejoin="miter"/>
<text x="412.50" y="672.40" font-size="11" fill="#1e1e1e">0</text>
<text x="514.00" y="672.40" font-size="11" fill="#1e1e1e">0</text>
<text x="493.70" y="672.40" font-size="11" fill="#1e1e1e">3</text>
<text x="593.50" y="672.40" font-size="11" fill="#1e1e1e">3</text>
<text x="614.80" y="671.60" font-size="11.2" fill="#1e1e1e" textLength="33.40" lengthAdjust="spacingAndGlyphs">(pmol)</text>
<line x1="407.90" y1="680.40" x2="504.90" y2="680.40" stroke="#7a7a7a" stroke-width="1.6"/>
<line x1="509.70" y1="680.40" x2="607.50" y2="680.40" stroke="#7a7a7a" stroke-width="1.6"/>
<text x="439.60" y="693.20" font-size="11.5" fill="#2a2a2a" textLength="48.00" lengthAdjust="spacingAndGlyphs">si-control</text>
<text x="532.10" y="693.40" font-size="11.5" fill="#2a2a2a" textLength="50.90" lengthAdjust="spacingAndGlyphs">si-ASCT2</text></svg></body></html>
